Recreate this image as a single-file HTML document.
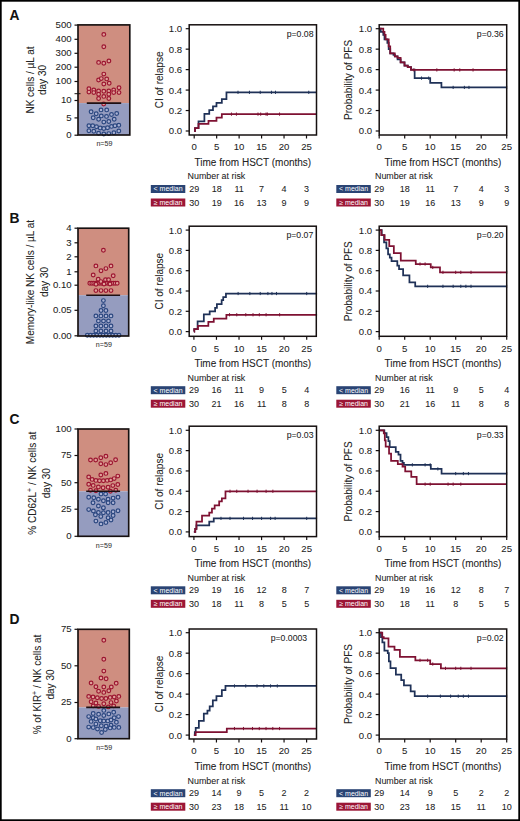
<!DOCTYPE html><html><head><meta charset="utf-8"><style>html,body{margin:0;padding:0;background:#fff;}svg{display:block;}text{font-family:"Liberation Sans", sans-serif;}</style></head><body>
<svg width="520" height="821" viewBox="0 0 520 821">
<rect x="0" y="0" width="520" height="821" fill="#fff"/>
<text x="9.60" y="19.60" font-size="13.8" text-anchor="start" font-weight="bold" fill="#111" stroke="#111" stroke-width="0.06" >A</text>
<rect x="78" y="24.9" width="51.80000000000001" height="78.19999999999999" fill="#cf8e80"/>
<rect x="78" y="103.1" width="51.80000000000001" height="31.900000000000006" fill="#959cbf"/>
<circle cx="103.8" cy="34.4" r="1.85" fill="#e0a19a" stroke="#9c1530" stroke-width="1.2"/>
<circle cx="103.8" cy="46.8" r="1.85" fill="#e0a19a" stroke="#9c1530" stroke-width="1.2"/>
<circle cx="98.6" cy="62.4" r="1.85" fill="#e0a19a" stroke="#9c1530" stroke-width="1.2"/>
<circle cx="103.8" cy="63.2" r="1.85" fill="#e0a19a" stroke="#9c1530" stroke-width="1.2"/>
<circle cx="108.9" cy="61.0" r="1.85" fill="#e0a19a" stroke="#9c1530" stroke-width="1.2"/>
<circle cx="103.8" cy="74.1" r="1.85" fill="#e0a19a" stroke="#9c1530" stroke-width="1.2"/>
<circle cx="98.6" cy="80.0" r="1.85" fill="#e0a19a" stroke="#9c1530" stroke-width="1.2"/>
<circle cx="101.3" cy="78.6" r="1.85" fill="#e0a19a" stroke="#9c1530" stroke-width="1.2"/>
<circle cx="106.7" cy="78.9" r="1.85" fill="#e0a19a" stroke="#9c1530" stroke-width="1.2"/>
<circle cx="103.8" cy="84.0" r="1.85" fill="#e0a19a" stroke="#9c1530" stroke-width="1.2"/>
<circle cx="109.2" cy="83.2" r="1.85" fill="#e0a19a" stroke="#9c1530" stroke-width="1.2"/>
<circle cx="88.9" cy="88.8" r="1.85" fill="#e0a19a" stroke="#9c1530" stroke-width="1.2"/>
<circle cx="88.9" cy="92.1" r="1.85" fill="#e0a19a" stroke="#9c1530" stroke-width="1.2"/>
<circle cx="93.8" cy="89.9" r="1.85" fill="#e0a19a" stroke="#9c1530" stroke-width="1.2"/>
<circle cx="93.8" cy="92.6" r="1.85" fill="#e0a19a" stroke="#9c1530" stroke-width="1.2"/>
<circle cx="98.6" cy="91.0" r="1.85" fill="#e0a19a" stroke="#9c1530" stroke-width="1.2"/>
<circle cx="98.6" cy="94.2" r="1.85" fill="#e0a19a" stroke="#9c1530" stroke-width="1.2"/>
<circle cx="103.8" cy="91.2" r="1.85" fill="#e0a19a" stroke="#9c1530" stroke-width="1.2"/>
<circle cx="108.8" cy="91.0" r="1.85" fill="#e0a19a" stroke="#9c1530" stroke-width="1.2"/>
<circle cx="108.8" cy="94.2" r="1.85" fill="#e0a19a" stroke="#9c1530" stroke-width="1.2"/>
<circle cx="113.7" cy="89.9" r="1.85" fill="#e0a19a" stroke="#9c1530" stroke-width="1.2"/>
<circle cx="113.7" cy="92.6" r="1.85" fill="#e0a19a" stroke="#9c1530" stroke-width="1.2"/>
<circle cx="119.0" cy="87.8" r="1.85" fill="#e0a19a" stroke="#9c1530" stroke-width="1.2"/>
<circle cx="119.0" cy="92.6" r="1.85" fill="#e0a19a" stroke="#9c1530" stroke-width="1.2"/>
<circle cx="98.6" cy="98.5" r="1.85" fill="#e0a19a" stroke="#9c1530" stroke-width="1.2"/>
<circle cx="103.8" cy="96.4" r="1.85" fill="#e0a19a" stroke="#9c1530" stroke-width="1.2"/>
<circle cx="108.8" cy="98.5" r="1.85" fill="#e0a19a" stroke="#9c1530" stroke-width="1.2"/>
<circle cx="103.7" cy="104.0" r="1.85" fill="#e0a19a" stroke="#9c1530" stroke-width="1.2"/>
<circle cx="101.0" cy="109.9" r="1.85" fill="#aab2d4" stroke="#2a467f" stroke-width="1.2"/>
<circle cx="106.7" cy="109.9" r="1.85" fill="#aab2d4" stroke="#2a467f" stroke-width="1.2"/>
<circle cx="91.1" cy="111.8" r="1.85" fill="#aab2d4" stroke="#2a467f" stroke-width="1.2"/>
<circle cx="116.7" cy="113.5" r="1.85" fill="#aab2d4" stroke="#2a467f" stroke-width="1.2"/>
<circle cx="96.2" cy="113.8" r="1.85" fill="#aab2d4" stroke="#2a467f" stroke-width="1.2"/>
<circle cx="101.3" cy="115.9" r="1.85" fill="#aab2d4" stroke="#2a467f" stroke-width="1.2"/>
<circle cx="106.5" cy="116.4" r="1.85" fill="#aab2d4" stroke="#2a467f" stroke-width="1.2"/>
<circle cx="111.5" cy="114.5" r="1.85" fill="#aab2d4" stroke="#2a467f" stroke-width="1.2"/>
<circle cx="93.2" cy="117.8" r="1.85" fill="#aab2d4" stroke="#2a467f" stroke-width="1.2"/>
<circle cx="98.6" cy="119.2" r="1.85" fill="#aab2d4" stroke="#2a467f" stroke-width="1.2"/>
<circle cx="114.2" cy="119.2" r="1.85" fill="#aab2d4" stroke="#2a467f" stroke-width="1.2"/>
<circle cx="103.8" cy="122.1" r="1.85" fill="#aab2d4" stroke="#2a467f" stroke-width="1.2"/>
<circle cx="108.8" cy="121.5" r="1.85" fill="#aab2d4" stroke="#2a467f" stroke-width="1.2"/>
<circle cx="88.9" cy="125.8" r="1.85" fill="#aab2d4" stroke="#2a467f" stroke-width="1.2"/>
<circle cx="92.7" cy="125.8" r="1.85" fill="#aab2d4" stroke="#2a467f" stroke-width="1.2"/>
<circle cx="96.5" cy="126.7" r="1.85" fill="#aab2d4" stroke="#2a467f" stroke-width="1.2"/>
<circle cx="100.2" cy="128.0" r="1.85" fill="#aab2d4" stroke="#2a467f" stroke-width="1.2"/>
<circle cx="103.8" cy="128.5" r="1.85" fill="#aab2d4" stroke="#2a467f" stroke-width="1.2"/>
<circle cx="107.5" cy="127.8" r="1.85" fill="#aab2d4" stroke="#2a467f" stroke-width="1.2"/>
<circle cx="111.5" cy="126.4" r="1.85" fill="#aab2d4" stroke="#2a467f" stroke-width="1.2"/>
<circle cx="115.0" cy="125.8" r="1.85" fill="#aab2d4" stroke="#2a467f" stroke-width="1.2"/>
<circle cx="118.8" cy="125.3" r="1.85" fill="#aab2d4" stroke="#2a467f" stroke-width="1.2"/>
<circle cx="88.9" cy="130.7" r="1.85" fill="#aab2d4" stroke="#2a467f" stroke-width="1.2"/>
<circle cx="93.8" cy="131.2" r="1.85" fill="#aab2d4" stroke="#2a467f" stroke-width="1.2"/>
<circle cx="98.6" cy="133.2" r="1.85" fill="#aab2d4" stroke="#2a467f" stroke-width="1.2"/>
<circle cx="103.8" cy="134.0" r="1.85" fill="#aab2d4" stroke="#2a467f" stroke-width="1.2"/>
<circle cx="108.8" cy="133.6" r="1.85" fill="#aab2d4" stroke="#2a467f" stroke-width="1.2"/>
<circle cx="113.9" cy="132.8" r="1.85" fill="#aab2d4" stroke="#2a467f" stroke-width="1.2"/>
<circle cx="118.8" cy="131.0" r="1.85" fill="#aab2d4" stroke="#2a467f" stroke-width="1.2"/>
<line x1="86.80" y1="103.10" x2="121.20" y2="103.10" stroke="#1e1014" stroke-width="1.6"/>
<rect x="78" y="24.9" width="51.80000000000001" height="110.1" fill="none" stroke="#161010" stroke-width="1.65"/>
<line x1="74.50" y1="25.10" x2="78.00" y2="25.10" stroke="#161010" stroke-width="1.2"/>
<text x="71.60" y="28.00" font-size="9.6" text-anchor="end" font-weight="normal" fill="#222" stroke="#222" stroke-width="0.06" >500</text>
<line x1="74.50" y1="39.30" x2="78.00" y2="39.30" stroke="#161010" stroke-width="1.2"/>
<text x="71.60" y="42.20" font-size="9.6" text-anchor="end" font-weight="normal" fill="#222" stroke="#222" stroke-width="0.06" >400</text>
<line x1="74.50" y1="53.30" x2="78.00" y2="53.30" stroke="#161010" stroke-width="1.2"/>
<text x="71.60" y="56.20" font-size="9.6" text-anchor="end" font-weight="normal" fill="#222" stroke="#222" stroke-width="0.06" >300</text>
<line x1="74.50" y1="67.20" x2="78.00" y2="67.20" stroke="#161010" stroke-width="1.2"/>
<text x="71.60" y="70.10" font-size="9.6" text-anchor="end" font-weight="normal" fill="#222" stroke="#222" stroke-width="0.06" >200</text>
<line x1="74.50" y1="81.50" x2="78.00" y2="81.50" stroke="#161010" stroke-width="1.2"/>
<text x="71.60" y="84.40" font-size="9.6" text-anchor="end" font-weight="normal" fill="#222" stroke="#222" stroke-width="0.06" >100</text>
<line x1="74.50" y1="100.50" x2="78.00" y2="100.50" stroke="#161010" stroke-width="1.2"/>
<text x="71.60" y="103.40" font-size="9.6" text-anchor="end" font-weight="normal" fill="#222" stroke="#222" stroke-width="0.06" >10</text>
<line x1="74.50" y1="117.90" x2="78.00" y2="117.90" stroke="#161010" stroke-width="1.2"/>
<text x="71.60" y="120.80" font-size="9.6" text-anchor="end" font-weight="normal" fill="#222" stroke="#222" stroke-width="0.06" >5</text>
<line x1="74.50" y1="135.20" x2="78.00" y2="135.20" stroke="#161010" stroke-width="1.2"/>
<text x="71.60" y="138.10" font-size="9.6" text-anchor="end" font-weight="normal" fill="#222" stroke="#222" stroke-width="0.06" >0</text>
<line x1="74.50" y1="93.70" x2="80.50" y2="93.70" stroke="#161010" stroke-width="1.0"/>
<text x="0" y="0" font-size="10" text-anchor="middle" fill="#222" stroke="#222" stroke-width="0.06" transform="translate(30.10,80.00) rotate(-90)" dy="3.6">NK cells / µL at</text>
<text x="0" y="0" font-size="10" text-anchor="middle" fill="#222" stroke="#222" stroke-width="0.06" transform="translate(42.80,80.00) rotate(-90)" dy="3.6">day 30</text>
<text x="104.40" y="146.20" font-size="7.1" text-anchor="middle" font-weight="normal" fill="#333" stroke="#333" stroke-width="0.06" >n=59</text>
<path d="M194.20,131.00 L195.01,131.00 L195.01,128.24 L198.51,128.24 L198.51,121.38 L204.40,121.38 L204.40,113.81 L209.25,113.81 L209.25,110.03 L212.98,110.03 L212.98,106.45 L216.48,106.45 L216.48,102.87 L221.83,102.87 L221.83,99.08 L226.45,99.08 L226.45,92.33 L316.83,92.33" fill="none" stroke="#1f3157" stroke-width="1.75" stroke-linejoin="miter"/>
<line x1="238.00" y1="90.73" x2="238.00" y2="93.93" stroke="#1f3157" stroke-width="1.0"/>
<line x1="249.45" y1="90.73" x2="249.45" y2="93.93" stroke="#1f3157" stroke-width="1.0"/>
<line x1="260.23" y1="90.73" x2="260.23" y2="93.93" stroke="#1f3157" stroke-width="1.0"/>
<line x1="271.46" y1="90.73" x2="271.46" y2="93.93" stroke="#1f3157" stroke-width="1.0"/>
<line x1="275.51" y1="90.73" x2="275.51" y2="93.93" stroke="#1f3157" stroke-width="1.0"/>
<line x1="308.75" y1="90.73" x2="308.75" y2="93.93" stroke="#1f3157" stroke-width="1.0"/>
<path d="M194.20,131.00 L195.01,131.00 L195.01,128.24 L198.51,128.24 L198.51,123.84 L208.48,123.84 L208.48,120.77 L216.48,120.77 L216.48,117.70 L221.83,117.70 L221.83,114.12 L316.83,114.12" fill="none" stroke="#7e1132" stroke-width="1.75" stroke-linejoin="miter"/>
<line x1="231.48" y1="112.52" x2="231.48" y2="115.72" stroke="#7e1132" stroke-width="1.0"/>
<line x1="236.42" y1="112.52" x2="236.42" y2="115.72" stroke="#7e1132" stroke-width="1.0"/>
<line x1="257.99" y1="112.52" x2="257.99" y2="115.72" stroke="#7e1132" stroke-width="1.0"/>
<line x1="260.68" y1="112.52" x2="260.68" y2="115.72" stroke="#7e1132" stroke-width="1.0"/>
<line x1="266.07" y1="112.52" x2="266.07" y2="115.72" stroke="#7e1132" stroke-width="1.0"/>
<line x1="267.42" y1="112.52" x2="267.42" y2="115.72" stroke="#7e1132" stroke-width="1.0"/>
<line x1="279.55" y1="112.52" x2="279.55" y2="115.72" stroke="#7e1132" stroke-width="1.0"/>
<rect x="189.2" y="24.8" width="127.30000000000001" height="110.2" fill="none" stroke="#161010" stroke-width="1.5"/>
<line x1="185.70" y1="131.00" x2="189.20" y2="131.00" stroke="#161010" stroke-width="1.2"/>
<text x="182.20" y="134.45" font-size="9.6" text-anchor="end" font-weight="normal" fill="#222" stroke="#222" stroke-width="0.06" >0.0</text>
<line x1="185.70" y1="110.54" x2="189.20" y2="110.54" stroke="#161010" stroke-width="1.2"/>
<text x="182.20" y="113.99" font-size="9.6" text-anchor="end" font-weight="normal" fill="#222" stroke="#222" stroke-width="0.06" >0.2</text>
<line x1="185.70" y1="90.08" x2="189.20" y2="90.08" stroke="#161010" stroke-width="1.2"/>
<text x="182.20" y="93.53" font-size="9.6" text-anchor="end" font-weight="normal" fill="#222" stroke="#222" stroke-width="0.06" >0.4</text>
<line x1="185.70" y1="69.62" x2="189.20" y2="69.62" stroke="#161010" stroke-width="1.2"/>
<text x="182.20" y="73.07" font-size="9.6" text-anchor="end" font-weight="normal" fill="#222" stroke="#222" stroke-width="0.06" >0.6</text>
<line x1="185.70" y1="49.16" x2="189.20" y2="49.16" stroke="#161010" stroke-width="1.2"/>
<text x="182.20" y="52.61" font-size="9.6" text-anchor="end" font-weight="normal" fill="#222" stroke="#222" stroke-width="0.06" >0.8</text>
<line x1="185.70" y1="28.70" x2="189.20" y2="28.70" stroke="#161010" stroke-width="1.2"/>
<text x="182.20" y="32.15" font-size="9.6" text-anchor="end" font-weight="normal" fill="#222" stroke="#222" stroke-width="0.06" >1.0</text>
<line x1="194.20" y1="135.00" x2="194.20" y2="138.50" stroke="#161010" stroke-width="1.2"/>
<text x="194.20" y="150.30" font-size="9.6" text-anchor="middle" font-weight="normal" fill="#222" stroke="#222" stroke-width="0.06" >0</text>
<line x1="216.66" y1="135.00" x2="216.66" y2="138.50" stroke="#161010" stroke-width="1.2"/>
<text x="216.66" y="150.30" font-size="9.6" text-anchor="middle" font-weight="normal" fill="#222" stroke="#222" stroke-width="0.06" >5</text>
<line x1="239.12" y1="135.00" x2="239.12" y2="138.50" stroke="#161010" stroke-width="1.2"/>
<text x="239.12" y="150.30" font-size="9.6" text-anchor="middle" font-weight="normal" fill="#222" stroke="#222" stroke-width="0.06" >10</text>
<line x1="261.58" y1="135.00" x2="261.58" y2="138.50" stroke="#161010" stroke-width="1.2"/>
<text x="261.58" y="150.30" font-size="9.6" text-anchor="middle" font-weight="normal" fill="#222" stroke="#222" stroke-width="0.06" >15</text>
<line x1="284.04" y1="135.00" x2="284.04" y2="138.50" stroke="#161010" stroke-width="1.2"/>
<text x="284.04" y="150.30" font-size="9.6" text-anchor="middle" font-weight="normal" fill="#222" stroke="#222" stroke-width="0.06" >20</text>
<line x1="306.50" y1="135.00" x2="306.50" y2="138.50" stroke="#161010" stroke-width="1.2"/>
<text x="306.50" y="150.30" font-size="9.6" text-anchor="middle" font-weight="normal" fill="#222" stroke="#222" stroke-width="0.06" >25</text>
<text x="252.85" y="165.60" font-size="10" text-anchor="middle" font-weight="normal" fill="#222" stroke="#222" stroke-width="0.06" >Time from HSCT (months)</text>
<text x="0" y="0" font-size="10" text-anchor="middle" fill="#222" stroke="#222" stroke-width="0.06" transform="translate(159.20,79.90) rotate(-90)" dy="3.6">CI of relapse</text>
<text x="313.50" y="36.90" font-size="8.7" text-anchor="end" font-weight="normal" fill="#222" stroke="#222" stroke-width="0.06" >p=0.08</text>
<text x="187.60" y="179.40" font-size="8.9" text-anchor="start" font-weight="normal" fill="#222" stroke="#222" stroke-width="0.06" >Number at risk</text>
<rect x="150.80" y="185.00" width="34.5" height="8" fill="#2a4474"/>
<text x="168.05" y="191.40" font-size="7" text-anchor="middle" font-weight="normal" fill="#fff" stroke="#fff" stroke-width="0" >&lt; median</text>
<text x="194.20" y="192.10" font-size="9" text-anchor="middle" font-weight="normal" fill="#222" stroke="#222" stroke-width="0.06" >29</text>
<text x="216.66" y="192.10" font-size="9" text-anchor="middle" font-weight="normal" fill="#222" stroke="#222" stroke-width="0.06" >18</text>
<text x="239.12" y="192.10" font-size="9" text-anchor="middle" font-weight="normal" fill="#222" stroke="#222" stroke-width="0.06" >11</text>
<text x="261.58" y="192.10" font-size="9" text-anchor="middle" font-weight="normal" fill="#222" stroke="#222" stroke-width="0.06" >7</text>
<text x="284.04" y="192.10" font-size="9" text-anchor="middle" font-weight="normal" fill="#222" stroke="#222" stroke-width="0.06" >4</text>
<text x="306.50" y="192.10" font-size="9" text-anchor="middle" font-weight="normal" fill="#222" stroke="#222" stroke-width="0.06" >3</text>
<rect x="150.80" y="198.50" width="34.5" height="8" fill="#9c1636"/>
<text x="168.05" y="204.90" font-size="7" text-anchor="middle" font-weight="normal" fill="#fff" stroke="#fff" stroke-width="0" >&#8805; median</text>
<text x="194.20" y="205.60" font-size="9" text-anchor="middle" font-weight="normal" fill="#222" stroke="#222" stroke-width="0.06" >30</text>
<text x="216.66" y="205.60" font-size="9" text-anchor="middle" font-weight="normal" fill="#222" stroke="#222" stroke-width="0.06" >19</text>
<text x="239.12" y="205.60" font-size="9" text-anchor="middle" font-weight="normal" fill="#222" stroke="#222" stroke-width="0.06" >16</text>
<text x="261.58" y="205.60" font-size="9" text-anchor="middle" font-weight="normal" fill="#222" stroke="#222" stroke-width="0.06" >13</text>
<text x="284.04" y="205.60" font-size="9" text-anchor="middle" font-weight="normal" fill="#222" stroke="#222" stroke-width="0.06" >9</text>
<text x="306.50" y="205.60" font-size="9" text-anchor="middle" font-weight="normal" fill="#222" stroke="#222" stroke-width="0.06" >9</text>
<path d="M379.20,28.70 L380.73,28.70 L380.73,31.77 L383.28,31.77 L383.28,34.84 L384.50,34.84 L384.50,39.44 L387.36,39.44 L387.36,42.82 L388.69,42.82 L388.69,49.16 L390.22,49.16 L390.22,53.25 L393.48,53.25 L393.48,54.79 L394.81,54.79 L394.81,56.32 L397.56,56.32 L397.56,59.39 L400.62,59.39 L400.62,62.46 L404.50,62.46 L404.50,65.53 L407.76,65.53 L407.76,67.06 L411.02,67.06 L411.02,69.62 L414.64,69.62 L414.64,78.11 L430.20,78.11 L430.20,82.82 L441.42,82.82 L441.42,87.42 L506.70,87.42" fill="none" stroke="#1f3157" stroke-width="1.75" stroke-linejoin="miter"/>
<line x1="421.53" y1="76.51" x2="421.53" y2="79.71" stroke="#1f3157" stroke-width="1.0"/>
<line x1="428.67" y1="76.51" x2="428.67" y2="79.71" stroke="#1f3157" stroke-width="1.0"/>
<line x1="453.15" y1="85.82" x2="453.15" y2="89.02" stroke="#1f3157" stroke-width="1.0"/>
<line x1="464.37" y1="85.82" x2="464.37" y2="89.02" stroke="#1f3157" stroke-width="1.0"/>
<line x1="468.96" y1="85.82" x2="468.96" y2="89.02" stroke="#1f3157" stroke-width="1.0"/>
<line x1="506.70" y1="85.82" x2="506.70" y2="89.02" stroke="#1f3157" stroke-width="1.0"/>
<path d="M379.20,28.70 L383.28,28.70 L383.28,31.77 L384.50,31.77 L384.50,34.84 L385.63,34.84 L385.63,39.44 L388.69,39.44 L388.69,46.30 L390.22,46.30 L390.22,53.25 L394.81,53.25 L394.81,56.32 L397.56,56.32 L397.56,57.75 L400.62,57.75 L400.62,62.46 L404.50,62.46 L404.50,65.53 L407.76,65.53 L407.76,67.06 L411.02,67.06 L411.02,69.93 L506.70,69.93" fill="none" stroke="#7e1132" stroke-width="1.75" stroke-linejoin="miter"/>
<line x1="413.88" y1="68.33" x2="413.88" y2="71.53" stroke="#7e1132" stroke-width="1.0"/>
<line x1="436.83" y1="68.33" x2="436.83" y2="71.53" stroke="#7e1132" stroke-width="1.0"/>
<line x1="454.17" y1="68.33" x2="454.17" y2="71.53" stroke="#7e1132" stroke-width="1.0"/>
<line x1="459.78" y1="68.33" x2="459.78" y2="71.53" stroke="#7e1132" stroke-width="1.0"/>
<line x1="473.04" y1="68.33" x2="473.04" y2="71.53" stroke="#7e1132" stroke-width="1.0"/>
<line x1="506.70" y1="68.33" x2="506.70" y2="71.53" stroke="#7e1132" stroke-width="1.0"/>
<rect x="379.2" y="24.8" width="127.5" height="110.2" fill="none" stroke="#161010" stroke-width="1.5"/>
<line x1="375.70" y1="131.00" x2="379.20" y2="131.00" stroke="#161010" stroke-width="1.2"/>
<text x="372.20" y="134.45" font-size="9.6" text-anchor="end" font-weight="normal" fill="#222" stroke="#222" stroke-width="0.06" >0.0</text>
<line x1="375.70" y1="110.54" x2="379.20" y2="110.54" stroke="#161010" stroke-width="1.2"/>
<text x="372.20" y="113.99" font-size="9.6" text-anchor="end" font-weight="normal" fill="#222" stroke="#222" stroke-width="0.06" >0.2</text>
<line x1="375.70" y1="90.08" x2="379.20" y2="90.08" stroke="#161010" stroke-width="1.2"/>
<text x="372.20" y="93.53" font-size="9.6" text-anchor="end" font-weight="normal" fill="#222" stroke="#222" stroke-width="0.06" >0.4</text>
<line x1="375.70" y1="69.62" x2="379.20" y2="69.62" stroke="#161010" stroke-width="1.2"/>
<text x="372.20" y="73.07" font-size="9.6" text-anchor="end" font-weight="normal" fill="#222" stroke="#222" stroke-width="0.06" >0.6</text>
<line x1="375.70" y1="49.16" x2="379.20" y2="49.16" stroke="#161010" stroke-width="1.2"/>
<text x="372.20" y="52.61" font-size="9.6" text-anchor="end" font-weight="normal" fill="#222" stroke="#222" stroke-width="0.06" >0.8</text>
<line x1="375.70" y1="28.70" x2="379.20" y2="28.70" stroke="#161010" stroke-width="1.2"/>
<text x="372.20" y="32.15" font-size="9.6" text-anchor="end" font-weight="normal" fill="#222" stroke="#222" stroke-width="0.06" >1.0</text>
<line x1="379.20" y1="135.00" x2="379.20" y2="138.50" stroke="#161010" stroke-width="1.2"/>
<text x="379.20" y="150.30" font-size="9.6" text-anchor="middle" font-weight="normal" fill="#222" stroke="#222" stroke-width="0.06" >0</text>
<line x1="404.70" y1="135.00" x2="404.70" y2="138.50" stroke="#161010" stroke-width="1.2"/>
<text x="404.70" y="150.30" font-size="9.6" text-anchor="middle" font-weight="normal" fill="#222" stroke="#222" stroke-width="0.06" >5</text>
<line x1="430.20" y1="135.00" x2="430.20" y2="138.50" stroke="#161010" stroke-width="1.2"/>
<text x="430.20" y="150.30" font-size="9.6" text-anchor="middle" font-weight="normal" fill="#222" stroke="#222" stroke-width="0.06" >10</text>
<line x1="455.70" y1="135.00" x2="455.70" y2="138.50" stroke="#161010" stroke-width="1.2"/>
<text x="455.70" y="150.30" font-size="9.6" text-anchor="middle" font-weight="normal" fill="#222" stroke="#222" stroke-width="0.06" >15</text>
<line x1="481.20" y1="135.00" x2="481.20" y2="138.50" stroke="#161010" stroke-width="1.2"/>
<text x="481.20" y="150.30" font-size="9.6" text-anchor="middle" font-weight="normal" fill="#222" stroke="#222" stroke-width="0.06" >20</text>
<line x1="506.70" y1="135.00" x2="506.70" y2="138.50" stroke="#161010" stroke-width="1.2"/>
<text x="506.70" y="150.30" font-size="9.6" text-anchor="middle" font-weight="normal" fill="#222" stroke="#222" stroke-width="0.06" >25</text>
<text x="442.95" y="165.60" font-size="10" text-anchor="middle" font-weight="normal" fill="#222" stroke="#222" stroke-width="0.06" >Time from HSCT (months)</text>
<text x="0" y="0" font-size="10" text-anchor="middle" fill="#222" stroke="#222" stroke-width="0.06" transform="translate(348.80,79.90) rotate(-90)" dy="3.6">Probability of PFS</text>
<text x="503.70" y="36.90" font-size="8.7" text-anchor="end" font-weight="normal" fill="#222" stroke="#222" stroke-width="0.06" >p=0.36</text>
<text x="375.00" y="179.40" font-size="8.9" text-anchor="start" font-weight="normal" fill="#222" stroke="#222" stroke-width="0.06" >Number at risk</text>
<rect x="336.30" y="185.00" width="34.5" height="8" fill="#2a4474"/>
<text x="353.55" y="191.40" font-size="7" text-anchor="middle" font-weight="normal" fill="#fff" stroke="#fff" stroke-width="0" >&lt; median</text>
<text x="379.20" y="192.10" font-size="9" text-anchor="middle" font-weight="normal" fill="#222" stroke="#222" stroke-width="0.06" >29</text>
<text x="404.70" y="192.10" font-size="9" text-anchor="middle" font-weight="normal" fill="#222" stroke="#222" stroke-width="0.06" >18</text>
<text x="430.20" y="192.10" font-size="9" text-anchor="middle" font-weight="normal" fill="#222" stroke="#222" stroke-width="0.06" >11</text>
<text x="455.70" y="192.10" font-size="9" text-anchor="middle" font-weight="normal" fill="#222" stroke="#222" stroke-width="0.06" >7</text>
<text x="481.20" y="192.10" font-size="9" text-anchor="middle" font-weight="normal" fill="#222" stroke="#222" stroke-width="0.06" >4</text>
<text x="506.70" y="192.10" font-size="9" text-anchor="middle" font-weight="normal" fill="#222" stroke="#222" stroke-width="0.06" >3</text>
<rect x="336.30" y="198.50" width="34.5" height="8" fill="#9c1636"/>
<text x="353.55" y="204.90" font-size="7" text-anchor="middle" font-weight="normal" fill="#fff" stroke="#fff" stroke-width="0" >&#8805; median</text>
<text x="379.20" y="205.60" font-size="9" text-anchor="middle" font-weight="normal" fill="#222" stroke="#222" stroke-width="0.06" >30</text>
<text x="404.70" y="205.60" font-size="9" text-anchor="middle" font-weight="normal" fill="#222" stroke="#222" stroke-width="0.06" >19</text>
<text x="430.20" y="205.60" font-size="9" text-anchor="middle" font-weight="normal" fill="#222" stroke="#222" stroke-width="0.06" >16</text>
<text x="455.70" y="205.60" font-size="9" text-anchor="middle" font-weight="normal" fill="#222" stroke="#222" stroke-width="0.06" >13</text>
<text x="481.20" y="205.60" font-size="9" text-anchor="middle" font-weight="normal" fill="#222" stroke="#222" stroke-width="0.06" >9</text>
<text x="506.70" y="205.60" font-size="9" text-anchor="middle" font-weight="normal" fill="#222" stroke="#222" stroke-width="0.06" >9</text>
<text x="9.60" y="222.50" font-size="13.8" text-anchor="start" font-weight="bold" fill="#111" stroke="#111" stroke-width="0.06" >B</text>
<rect x="78" y="228.2" width="50.69999999999999" height="67.0" fill="#cf8e80"/>
<rect x="78" y="295.2" width="50.69999999999999" height="40.80000000000001" fill="#959cbf"/>
<circle cx="103.4" cy="250.3" r="1.85" fill="#e0a19a" stroke="#9c1530" stroke-width="1.2"/>
<circle cx="95.9" cy="265.9" r="1.85" fill="#e0a19a" stroke="#9c1530" stroke-width="1.2"/>
<circle cx="111.0" cy="265.9" r="1.85" fill="#e0a19a" stroke="#9c1530" stroke-width="1.2"/>
<circle cx="105.9" cy="268.6" r="1.85" fill="#e0a19a" stroke="#9c1530" stroke-width="1.2"/>
<circle cx="101.0" cy="270.7" r="1.85" fill="#e0a19a" stroke="#9c1530" stroke-width="1.2"/>
<circle cx="93.2" cy="275.0" r="1.85" fill="#e0a19a" stroke="#9c1530" stroke-width="1.2"/>
<circle cx="113.2" cy="275.8" r="1.85" fill="#e0a19a" stroke="#9c1530" stroke-width="1.2"/>
<circle cx="98.2" cy="279.3" r="1.85" fill="#e0a19a" stroke="#9c1530" stroke-width="1.2"/>
<circle cx="105.5" cy="279.7" r="1.85" fill="#e0a19a" stroke="#9c1530" stroke-width="1.2"/>
<circle cx="108.6" cy="279.7" r="1.85" fill="#e0a19a" stroke="#9c1530" stroke-width="1.2"/>
<circle cx="89.8" cy="283.3" r="1.85" fill="#e0a19a" stroke="#9c1530" stroke-width="1.2"/>
<circle cx="91.8" cy="283.3" r="1.85" fill="#e0a19a" stroke="#9c1530" stroke-width="1.2"/>
<circle cx="93.7" cy="283.3" r="1.85" fill="#e0a19a" stroke="#9c1530" stroke-width="1.2"/>
<circle cx="95.7" cy="283.3" r="1.85" fill="#e0a19a" stroke="#9c1530" stroke-width="1.2"/>
<circle cx="97.6" cy="283.3" r="1.85" fill="#e0a19a" stroke="#9c1530" stroke-width="1.2"/>
<circle cx="99.6" cy="283.3" r="1.85" fill="#e0a19a" stroke="#9c1530" stroke-width="1.2"/>
<circle cx="101.5" cy="283.3" r="1.85" fill="#e0a19a" stroke="#9c1530" stroke-width="1.2"/>
<circle cx="103.5" cy="283.3" r="1.85" fill="#e0a19a" stroke="#9c1530" stroke-width="1.2"/>
<circle cx="105.5" cy="283.3" r="1.85" fill="#e0a19a" stroke="#9c1530" stroke-width="1.2"/>
<circle cx="107.4" cy="283.3" r="1.85" fill="#e0a19a" stroke="#9c1530" stroke-width="1.2"/>
<circle cx="109.4" cy="283.3" r="1.85" fill="#e0a19a" stroke="#9c1530" stroke-width="1.2"/>
<circle cx="111.3" cy="283.3" r="1.85" fill="#e0a19a" stroke="#9c1530" stroke-width="1.2"/>
<circle cx="113.3" cy="283.3" r="1.85" fill="#e0a19a" stroke="#9c1530" stroke-width="1.2"/>
<circle cx="115.2" cy="283.3" r="1.85" fill="#e0a19a" stroke="#9c1530" stroke-width="1.2"/>
<circle cx="117.2" cy="283.3" r="1.85" fill="#e0a19a" stroke="#9c1530" stroke-width="1.2"/>
<circle cx="100.9" cy="281.6" r="1.85" fill="#e0a19a" stroke="#9c1530" stroke-width="1.2"/>
<circle cx="104.0" cy="284.0" r="1.85" fill="#e0a19a" stroke="#9c1530" stroke-width="1.2"/>
<circle cx="96.0" cy="284.2" r="1.85" fill="#e0a19a" stroke="#9c1530" stroke-width="1.2"/>
<circle cx="110.0" cy="284.0" r="1.85" fill="#e0a19a" stroke="#9c1530" stroke-width="1.2"/>
<circle cx="95.9" cy="290.6" r="1.85" fill="#e0a19a" stroke="#9c1530" stroke-width="1.2"/>
<circle cx="101.0" cy="290.6" r="1.85" fill="#e0a19a" stroke="#9c1530" stroke-width="1.2"/>
<circle cx="105.9" cy="290.6" r="1.85" fill="#e0a19a" stroke="#9c1530" stroke-width="1.2"/>
<circle cx="111.0" cy="290.6" r="1.85" fill="#e0a19a" stroke="#9c1530" stroke-width="1.2"/>
<circle cx="103.4" cy="300.6" r="1.85" fill="#aab2d4" stroke="#2a467f" stroke-width="1.2"/>
<circle cx="103.4" cy="305.7" r="1.85" fill="#aab2d4" stroke="#2a467f" stroke-width="1.2"/>
<circle cx="101.0" cy="310.5" r="1.85" fill="#aab2d4" stroke="#2a467f" stroke-width="1.2"/>
<circle cx="105.9" cy="310.5" r="1.85" fill="#aab2d4" stroke="#2a467f" stroke-width="1.2"/>
<circle cx="95.9" cy="315.9" r="1.85" fill="#aab2d4" stroke="#2a467f" stroke-width="1.2"/>
<circle cx="100.9" cy="315.9" r="1.85" fill="#aab2d4" stroke="#2a467f" stroke-width="1.2"/>
<circle cx="106.0" cy="315.9" r="1.85" fill="#aab2d4" stroke="#2a467f" stroke-width="1.2"/>
<circle cx="111.0" cy="315.9" r="1.85" fill="#aab2d4" stroke="#2a467f" stroke-width="1.2"/>
<circle cx="98.4" cy="321.0" r="1.85" fill="#aab2d4" stroke="#2a467f" stroke-width="1.2"/>
<circle cx="103.5" cy="321.0" r="1.85" fill="#aab2d4" stroke="#2a467f" stroke-width="1.2"/>
<circle cx="108.5" cy="321.0" r="1.85" fill="#aab2d4" stroke="#2a467f" stroke-width="1.2"/>
<circle cx="95.9" cy="325.9" r="1.85" fill="#aab2d4" stroke="#2a467f" stroke-width="1.2"/>
<circle cx="100.9" cy="325.9" r="1.85" fill="#aab2d4" stroke="#2a467f" stroke-width="1.2"/>
<circle cx="106.0" cy="325.9" r="1.85" fill="#aab2d4" stroke="#2a467f" stroke-width="1.2"/>
<circle cx="111.0" cy="325.9" r="1.85" fill="#aab2d4" stroke="#2a467f" stroke-width="1.2"/>
<circle cx="95.9" cy="331.0" r="1.85" fill="#aab2d4" stroke="#2a467f" stroke-width="1.2"/>
<circle cx="100.9" cy="331.0" r="1.85" fill="#aab2d4" stroke="#2a467f" stroke-width="1.2"/>
<circle cx="106.0" cy="331.0" r="1.85" fill="#aab2d4" stroke="#2a467f" stroke-width="1.2"/>
<circle cx="111.0" cy="331.0" r="1.85" fill="#aab2d4" stroke="#2a467f" stroke-width="1.2"/>
<circle cx="87.3" cy="335.3" r="1.85" fill="#aab2d4" stroke="#2a467f" stroke-width="1.2"/>
<circle cx="90.5" cy="335.3" r="1.85" fill="#aab2d4" stroke="#2a467f" stroke-width="1.2"/>
<circle cx="93.6" cy="335.3" r="1.85" fill="#aab2d4" stroke="#2a467f" stroke-width="1.2"/>
<circle cx="96.8" cy="335.3" r="1.85" fill="#aab2d4" stroke="#2a467f" stroke-width="1.2"/>
<circle cx="100.0" cy="335.3" r="1.85" fill="#aab2d4" stroke="#2a467f" stroke-width="1.2"/>
<circle cx="103.1" cy="335.3" r="1.85" fill="#aab2d4" stroke="#2a467f" stroke-width="1.2"/>
<circle cx="106.3" cy="335.3" r="1.85" fill="#aab2d4" stroke="#2a467f" stroke-width="1.2"/>
<circle cx="109.5" cy="335.3" r="1.85" fill="#aab2d4" stroke="#2a467f" stroke-width="1.2"/>
<circle cx="112.7" cy="335.3" r="1.85" fill="#aab2d4" stroke="#2a467f" stroke-width="1.2"/>
<circle cx="115.8" cy="335.3" r="1.85" fill="#aab2d4" stroke="#2a467f" stroke-width="1.2"/>
<circle cx="119.0" cy="335.3" r="1.85" fill="#aab2d4" stroke="#2a467f" stroke-width="1.2"/>
<line x1="86.20" y1="295.20" x2="120.10" y2="295.20" stroke="#1e1014" stroke-width="1.6"/>
<rect x="78" y="228.2" width="50.69999999999999" height="107.80000000000001" fill="none" stroke="#161010" stroke-width="1.65"/>
<line x1="74.50" y1="228.20" x2="78.00" y2="228.20" stroke="#161010" stroke-width="1.2"/>
<text x="71.60" y="231.10" font-size="9.6" text-anchor="end" font-weight="normal" fill="#222" stroke="#222" stroke-width="0.06" >4</text>
<line x1="74.50" y1="242.80" x2="78.00" y2="242.80" stroke="#161010" stroke-width="1.2"/>
<text x="71.60" y="245.70" font-size="9.6" text-anchor="end" font-weight="normal" fill="#222" stroke="#222" stroke-width="0.06" >3</text>
<line x1="74.50" y1="256.80" x2="78.00" y2="256.80" stroke="#161010" stroke-width="1.2"/>
<text x="71.60" y="259.70" font-size="9.6" text-anchor="end" font-weight="normal" fill="#222" stroke="#222" stroke-width="0.06" >2</text>
<line x1="74.50" y1="271.80" x2="78.00" y2="271.80" stroke="#161010" stroke-width="1.2"/>
<text x="71.60" y="274.70" font-size="9.6" text-anchor="end" font-weight="normal" fill="#222" stroke="#222" stroke-width="0.06" >1</text>
<line x1="74.50" y1="285.20" x2="78.00" y2="285.20" stroke="#161010" stroke-width="1.2"/>
<text x="71.60" y="288.10" font-size="9.6" text-anchor="end" font-weight="normal" fill="#222" stroke="#222" stroke-width="0.06" >0.10</text>
<line x1="74.50" y1="310.30" x2="78.00" y2="310.30" stroke="#161010" stroke-width="1.2"/>
<text x="71.60" y="313.20" font-size="9.6" text-anchor="end" font-weight="normal" fill="#222" stroke="#222" stroke-width="0.06" >0.05</text>
<line x1="74.50" y1="335.80" x2="78.00" y2="335.80" stroke="#161010" stroke-width="1.2"/>
<text x="71.60" y="338.70" font-size="9.6" text-anchor="end" font-weight="normal" fill="#222" stroke="#222" stroke-width="0.06" >0.00</text>
<text x="0" y="0" font-size="10" text-anchor="middle" fill="#222" stroke="#222" stroke-width="0.06" transform="translate(30.60,282.00) rotate(-90)" dy="3.6">Memory-like NK cells / µL at</text>
<text x="0" y="0" font-size="10" text-anchor="middle" fill="#222" stroke="#222" stroke-width="0.06" transform="translate(44.20,282.00) rotate(-90)" dy="3.6">day 30</text>
<text x="103.85" y="347.20" font-size="7.1" text-anchor="middle" font-weight="normal" fill="#333" stroke="#333" stroke-width="0.06" >n=59</text>
<path d="M193.90,331.60 L194.26,331.60 L194.26,329.06 L197.60,329.06 L197.60,321.45 L203.83,321.45 L203.83,314.35 L209.69,314.35 L209.69,311.30 L215.11,311.30 L215.11,307.75 L216.91,307.75 L216.91,304.19 L221.65,304.19 L221.65,300.13 L223.23,300.13 L223.23,297.09 L225.94,297.09 L225.94,293.54 L317.08,293.54" fill="none" stroke="#1f3157" stroke-width="1.75" stroke-linejoin="miter"/>
<line x1="238.12" y1="291.94" x2="238.12" y2="295.14" stroke="#1f3157" stroke-width="1.0"/>
<line x1="249.85" y1="291.94" x2="249.85" y2="295.14" stroke="#1f3157" stroke-width="1.0"/>
<line x1="260.23" y1="291.94" x2="260.23" y2="295.14" stroke="#1f3157" stroke-width="1.0"/>
<line x1="267.90" y1="291.94" x2="267.90" y2="295.14" stroke="#1f3157" stroke-width="1.0"/>
<line x1="271.96" y1="291.94" x2="271.96" y2="295.14" stroke="#1f3157" stroke-width="1.0"/>
<line x1="276.47" y1="291.94" x2="276.47" y2="295.14" stroke="#1f3157" stroke-width="1.0"/>
<line x1="306.70" y1="291.94" x2="306.70" y2="295.14" stroke="#1f3157" stroke-width="1.0"/>
<path d="M193.90,331.60 L194.26,331.60 L194.26,329.06 L197.96,329.06 L197.96,325.92 L208.34,325.92 L208.34,321.96 L213.75,321.96 L213.75,318.61 L226.39,318.61 L226.39,314.75 L317.08,314.75" fill="none" stroke="#7e1132" stroke-width="1.75" stroke-linejoin="miter"/>
<line x1="229.54" y1="313.15" x2="229.54" y2="316.35" stroke="#7e1132" stroke-width="1.0"/>
<line x1="236.76" y1="313.15" x2="236.76" y2="316.35" stroke="#7e1132" stroke-width="1.0"/>
<line x1="245.79" y1="313.15" x2="245.79" y2="316.35" stroke="#7e1132" stroke-width="1.0"/>
<line x1="253.01" y1="313.15" x2="253.01" y2="316.35" stroke="#7e1132" stroke-width="1.0"/>
<line x1="259.32" y1="313.15" x2="259.32" y2="316.35" stroke="#7e1132" stroke-width="1.0"/>
<line x1="266.09" y1="313.15" x2="266.09" y2="316.35" stroke="#7e1132" stroke-width="1.0"/>
<line x1="279.63" y1="313.15" x2="279.63" y2="316.35" stroke="#7e1132" stroke-width="1.0"/>
<rect x="189.2" y="226.2" width="127.10000000000002" height="110.10000000000002" fill="none" stroke="#161010" stroke-width="1.5"/>
<line x1="185.70" y1="331.60" x2="189.20" y2="331.60" stroke="#161010" stroke-width="1.2"/>
<text x="182.20" y="335.05" font-size="9.6" text-anchor="end" font-weight="normal" fill="#222" stroke="#222" stroke-width="0.06" >0.0</text>
<line x1="185.70" y1="311.30" x2="189.20" y2="311.30" stroke="#161010" stroke-width="1.2"/>
<text x="182.20" y="314.75" font-size="9.6" text-anchor="end" font-weight="normal" fill="#222" stroke="#222" stroke-width="0.06" >0.2</text>
<line x1="185.70" y1="291.00" x2="189.20" y2="291.00" stroke="#161010" stroke-width="1.2"/>
<text x="182.20" y="294.45" font-size="9.6" text-anchor="end" font-weight="normal" fill="#222" stroke="#222" stroke-width="0.06" >0.4</text>
<line x1="185.70" y1="270.70" x2="189.20" y2="270.70" stroke="#161010" stroke-width="1.2"/>
<text x="182.20" y="274.15" font-size="9.6" text-anchor="end" font-weight="normal" fill="#222" stroke="#222" stroke-width="0.06" >0.6</text>
<line x1="185.70" y1="250.40" x2="189.20" y2="250.40" stroke="#161010" stroke-width="1.2"/>
<text x="182.20" y="253.85" font-size="9.6" text-anchor="end" font-weight="normal" fill="#222" stroke="#222" stroke-width="0.06" >0.8</text>
<line x1="185.70" y1="230.10" x2="189.20" y2="230.10" stroke="#161010" stroke-width="1.2"/>
<text x="182.20" y="233.55" font-size="9.6" text-anchor="end" font-weight="normal" fill="#222" stroke="#222" stroke-width="0.06" >1.0</text>
<line x1="193.90" y1="336.30" x2="193.90" y2="339.80" stroke="#161010" stroke-width="1.2"/>
<text x="193.90" y="351.60" font-size="9.6" text-anchor="middle" font-weight="normal" fill="#222" stroke="#222" stroke-width="0.06" >0</text>
<line x1="216.46" y1="336.30" x2="216.46" y2="339.80" stroke="#161010" stroke-width="1.2"/>
<text x="216.46" y="351.60" font-size="9.6" text-anchor="middle" font-weight="normal" fill="#222" stroke="#222" stroke-width="0.06" >5</text>
<line x1="239.02" y1="336.30" x2="239.02" y2="339.80" stroke="#161010" stroke-width="1.2"/>
<text x="239.02" y="351.60" font-size="9.6" text-anchor="middle" font-weight="normal" fill="#222" stroke="#222" stroke-width="0.06" >10</text>
<line x1="261.58" y1="336.30" x2="261.58" y2="339.80" stroke="#161010" stroke-width="1.2"/>
<text x="261.58" y="351.60" font-size="9.6" text-anchor="middle" font-weight="normal" fill="#222" stroke="#222" stroke-width="0.06" >15</text>
<line x1="284.14" y1="336.30" x2="284.14" y2="339.80" stroke="#161010" stroke-width="1.2"/>
<text x="284.14" y="351.60" font-size="9.6" text-anchor="middle" font-weight="normal" fill="#222" stroke="#222" stroke-width="0.06" >20</text>
<line x1="306.70" y1="336.30" x2="306.70" y2="339.80" stroke="#161010" stroke-width="1.2"/>
<text x="306.70" y="351.60" font-size="9.6" text-anchor="middle" font-weight="normal" fill="#222" stroke="#222" stroke-width="0.06" >25</text>
<text x="252.75" y="366.90" font-size="10" text-anchor="middle" font-weight="normal" fill="#222" stroke="#222" stroke-width="0.06" >Time from HSCT (months)</text>
<text x="0" y="0" font-size="10" text-anchor="middle" fill="#222" stroke="#222" stroke-width="0.06" transform="translate(159.20,281.25) rotate(-90)" dy="3.6">CI of relapse</text>
<text x="313.30" y="238.30" font-size="8.7" text-anchor="end" font-weight="normal" fill="#222" stroke="#222" stroke-width="0.06" >p=0.07</text>
<text x="187.60" y="380.60" font-size="8.9" text-anchor="start" font-weight="normal" fill="#222" stroke="#222" stroke-width="0.06" >Number at risk</text>
<rect x="150.80" y="386.20" width="34.5" height="8" fill="#2a4474"/>
<text x="168.05" y="392.60" font-size="7" text-anchor="middle" font-weight="normal" fill="#fff" stroke="#fff" stroke-width="0" >&lt; median</text>
<text x="193.90" y="393.30" font-size="9" text-anchor="middle" font-weight="normal" fill="#222" stroke="#222" stroke-width="0.06" >29</text>
<text x="216.46" y="393.30" font-size="9" text-anchor="middle" font-weight="normal" fill="#222" stroke="#222" stroke-width="0.06" >16</text>
<text x="239.02" y="393.30" font-size="9" text-anchor="middle" font-weight="normal" fill="#222" stroke="#222" stroke-width="0.06" >11</text>
<text x="261.58" y="393.30" font-size="9" text-anchor="middle" font-weight="normal" fill="#222" stroke="#222" stroke-width="0.06" >9</text>
<text x="284.14" y="393.30" font-size="9" text-anchor="middle" font-weight="normal" fill="#222" stroke="#222" stroke-width="0.06" >5</text>
<text x="306.70" y="393.30" font-size="9" text-anchor="middle" font-weight="normal" fill="#222" stroke="#222" stroke-width="0.06" >4</text>
<rect x="150.80" y="399.70" width="34.5" height="8" fill="#9c1636"/>
<text x="168.05" y="406.10" font-size="7" text-anchor="middle" font-weight="normal" fill="#fff" stroke="#fff" stroke-width="0" >&#8805; median</text>
<text x="193.90" y="406.80" font-size="9" text-anchor="middle" font-weight="normal" fill="#222" stroke="#222" stroke-width="0.06" >30</text>
<text x="216.46" y="406.80" font-size="9" text-anchor="middle" font-weight="normal" fill="#222" stroke="#222" stroke-width="0.06" >21</text>
<text x="239.02" y="406.80" font-size="9" text-anchor="middle" font-weight="normal" fill="#222" stroke="#222" stroke-width="0.06" >16</text>
<text x="261.58" y="406.80" font-size="9" text-anchor="middle" font-weight="normal" fill="#222" stroke="#222" stroke-width="0.06" >11</text>
<text x="284.14" y="406.80" font-size="9" text-anchor="middle" font-weight="normal" fill="#222" stroke="#222" stroke-width="0.06" >8</text>
<text x="306.70" y="406.80" font-size="9" text-anchor="middle" font-weight="normal" fill="#222" stroke="#222" stroke-width="0.06" >8</text>
<path d="M379.20,230.10 L381.75,230.10 L381.75,235.18 L384.05,235.18 L384.05,242.28 L386.39,242.28 L386.39,248.37 L388.07,248.37 L388.07,254.46 L389.81,254.46 L389.81,257.50 L391.54,257.50 L391.54,261.16 L397.31,261.16 L397.31,265.73 L399.04,265.73 L399.04,269.18 L403.12,269.18 L403.12,275.47 L409.44,275.47 L409.44,282.37 L415.21,282.37 L415.21,286.33 L506.70,286.33" fill="none" stroke="#1f3157" stroke-width="1.75" stroke-linejoin="miter"/>
<line x1="427.65" y1="284.73" x2="427.65" y2="287.93" stroke="#1f3157" stroke-width="1.0"/>
<line x1="442.95" y1="284.73" x2="442.95" y2="287.93" stroke="#1f3157" stroke-width="1.0"/>
<line x1="453.15" y1="284.73" x2="453.15" y2="287.93" stroke="#1f3157" stroke-width="1.0"/>
<line x1="460.80" y1="284.73" x2="460.80" y2="287.93" stroke="#1f3157" stroke-width="1.0"/>
<line x1="465.90" y1="284.73" x2="465.90" y2="287.93" stroke="#1f3157" stroke-width="1.0"/>
<line x1="471.00" y1="284.73" x2="471.00" y2="287.93" stroke="#1f3157" stroke-width="1.0"/>
<line x1="506.70" y1="284.73" x2="506.70" y2="287.93" stroke="#1f3157" stroke-width="1.0"/>
<path d="M379.20,230.10 L381.24,230.10 L381.24,235.18 L384.66,235.18 L384.66,239.84 L389.25,239.84 L389.25,246.14 L393.84,246.14 L393.84,253.04 L400.77,253.04 L400.77,260.55 L415.77,260.55 L415.77,264.00 L430.76,264.00 L430.76,267.45 L439.99,267.45 L439.99,272.32 L506.70,272.32" fill="none" stroke="#7e1132" stroke-width="1.75" stroke-linejoin="miter"/>
<line x1="420.00" y1="262.40" x2="420.00" y2="265.60" stroke="#7e1132" stroke-width="1.0"/>
<line x1="425.10" y1="262.40" x2="425.10" y2="265.60" stroke="#7e1132" stroke-width="1.0"/>
<line x1="432.75" y1="265.85" x2="432.75" y2="269.05" stroke="#7e1132" stroke-width="1.0"/>
<line x1="442.95" y1="270.72" x2="442.95" y2="273.92" stroke="#7e1132" stroke-width="1.0"/>
<line x1="455.70" y1="270.72" x2="455.70" y2="273.92" stroke="#7e1132" stroke-width="1.0"/>
<line x1="460.80" y1="270.72" x2="460.80" y2="273.92" stroke="#7e1132" stroke-width="1.0"/>
<line x1="471.00" y1="270.72" x2="471.00" y2="273.92" stroke="#7e1132" stroke-width="1.0"/>
<line x1="506.70" y1="270.72" x2="506.70" y2="273.92" stroke="#7e1132" stroke-width="1.0"/>
<rect x="379.2" y="226.2" width="127.5" height="110.10000000000002" fill="none" stroke="#161010" stroke-width="1.5"/>
<line x1="375.70" y1="331.60" x2="379.20" y2="331.60" stroke="#161010" stroke-width="1.2"/>
<text x="372.20" y="335.05" font-size="9.6" text-anchor="end" font-weight="normal" fill="#222" stroke="#222" stroke-width="0.06" >0.0</text>
<line x1="375.70" y1="311.30" x2="379.20" y2="311.30" stroke="#161010" stroke-width="1.2"/>
<text x="372.20" y="314.75" font-size="9.6" text-anchor="end" font-weight="normal" fill="#222" stroke="#222" stroke-width="0.06" >0.2</text>
<line x1="375.70" y1="291.00" x2="379.20" y2="291.00" stroke="#161010" stroke-width="1.2"/>
<text x="372.20" y="294.45" font-size="9.6" text-anchor="end" font-weight="normal" fill="#222" stroke="#222" stroke-width="0.06" >0.4</text>
<line x1="375.70" y1="270.70" x2="379.20" y2="270.70" stroke="#161010" stroke-width="1.2"/>
<text x="372.20" y="274.15" font-size="9.6" text-anchor="end" font-weight="normal" fill="#222" stroke="#222" stroke-width="0.06" >0.6</text>
<line x1="375.70" y1="250.40" x2="379.20" y2="250.40" stroke="#161010" stroke-width="1.2"/>
<text x="372.20" y="253.85" font-size="9.6" text-anchor="end" font-weight="normal" fill="#222" stroke="#222" stroke-width="0.06" >0.8</text>
<line x1="375.70" y1="230.10" x2="379.20" y2="230.10" stroke="#161010" stroke-width="1.2"/>
<text x="372.20" y="233.55" font-size="9.6" text-anchor="end" font-weight="normal" fill="#222" stroke="#222" stroke-width="0.06" >1.0</text>
<line x1="379.20" y1="336.30" x2="379.20" y2="339.80" stroke="#161010" stroke-width="1.2"/>
<text x="379.20" y="351.60" font-size="9.6" text-anchor="middle" font-weight="normal" fill="#222" stroke="#222" stroke-width="0.06" >0</text>
<line x1="404.70" y1="336.30" x2="404.70" y2="339.80" stroke="#161010" stroke-width="1.2"/>
<text x="404.70" y="351.60" font-size="9.6" text-anchor="middle" font-weight="normal" fill="#222" stroke="#222" stroke-width="0.06" >5</text>
<line x1="430.20" y1="336.30" x2="430.20" y2="339.80" stroke="#161010" stroke-width="1.2"/>
<text x="430.20" y="351.60" font-size="9.6" text-anchor="middle" font-weight="normal" fill="#222" stroke="#222" stroke-width="0.06" >10</text>
<line x1="455.70" y1="336.30" x2="455.70" y2="339.80" stroke="#161010" stroke-width="1.2"/>
<text x="455.70" y="351.60" font-size="9.6" text-anchor="middle" font-weight="normal" fill="#222" stroke="#222" stroke-width="0.06" >15</text>
<line x1="481.20" y1="336.30" x2="481.20" y2="339.80" stroke="#161010" stroke-width="1.2"/>
<text x="481.20" y="351.60" font-size="9.6" text-anchor="middle" font-weight="normal" fill="#222" stroke="#222" stroke-width="0.06" >20</text>
<line x1="506.70" y1="336.30" x2="506.70" y2="339.80" stroke="#161010" stroke-width="1.2"/>
<text x="506.70" y="351.60" font-size="9.6" text-anchor="middle" font-weight="normal" fill="#222" stroke="#222" stroke-width="0.06" >25</text>
<text x="442.95" y="366.90" font-size="10" text-anchor="middle" font-weight="normal" fill="#222" stroke="#222" stroke-width="0.06" >Time from HSCT (months)</text>
<text x="0" y="0" font-size="10" text-anchor="middle" fill="#222" stroke="#222" stroke-width="0.06" transform="translate(348.80,281.25) rotate(-90)" dy="3.6">Probability of PFS</text>
<text x="503.70" y="238.30" font-size="8.7" text-anchor="end" font-weight="normal" fill="#222" stroke="#222" stroke-width="0.06" >p=0.20</text>
<text x="375.00" y="380.60" font-size="8.9" text-anchor="start" font-weight="normal" fill="#222" stroke="#222" stroke-width="0.06" >Number at risk</text>
<rect x="336.30" y="386.20" width="34.5" height="8" fill="#2a4474"/>
<text x="353.55" y="392.60" font-size="7" text-anchor="middle" font-weight="normal" fill="#fff" stroke="#fff" stroke-width="0" >&lt; median</text>
<text x="379.20" y="393.30" font-size="9" text-anchor="middle" font-weight="normal" fill="#222" stroke="#222" stroke-width="0.06" >29</text>
<text x="404.70" y="393.30" font-size="9" text-anchor="middle" font-weight="normal" fill="#222" stroke="#222" stroke-width="0.06" >16</text>
<text x="430.20" y="393.30" font-size="9" text-anchor="middle" font-weight="normal" fill="#222" stroke="#222" stroke-width="0.06" >11</text>
<text x="455.70" y="393.30" font-size="9" text-anchor="middle" font-weight="normal" fill="#222" stroke="#222" stroke-width="0.06" >9</text>
<text x="481.20" y="393.30" font-size="9" text-anchor="middle" font-weight="normal" fill="#222" stroke="#222" stroke-width="0.06" >5</text>
<text x="506.70" y="393.30" font-size="9" text-anchor="middle" font-weight="normal" fill="#222" stroke="#222" stroke-width="0.06" >4</text>
<rect x="336.30" y="399.70" width="34.5" height="8" fill="#9c1636"/>
<text x="353.55" y="406.10" font-size="7" text-anchor="middle" font-weight="normal" fill="#fff" stroke="#fff" stroke-width="0" >&#8805; median</text>
<text x="379.20" y="406.80" font-size="9" text-anchor="middle" font-weight="normal" fill="#222" stroke="#222" stroke-width="0.06" >30</text>
<text x="404.70" y="406.80" font-size="9" text-anchor="middle" font-weight="normal" fill="#222" stroke="#222" stroke-width="0.06" >21</text>
<text x="430.20" y="406.80" font-size="9" text-anchor="middle" font-weight="normal" fill="#222" stroke="#222" stroke-width="0.06" >16</text>
<text x="455.70" y="406.80" font-size="9" text-anchor="middle" font-weight="normal" fill="#222" stroke="#222" stroke-width="0.06" >11</text>
<text x="481.20" y="406.80" font-size="9" text-anchor="middle" font-weight="normal" fill="#222" stroke="#222" stroke-width="0.06" >8</text>
<text x="506.70" y="406.80" font-size="9" text-anchor="middle" font-weight="normal" fill="#222" stroke="#222" stroke-width="0.06" >8</text>
<text x="9.60" y="424.00" font-size="13.8" text-anchor="start" font-weight="bold" fill="#111" stroke="#111" stroke-width="0.06" >C</text>
<rect x="78" y="429" width="50.69999999999999" height="62.30000000000001" fill="#cf8e80"/>
<rect x="78" y="491.3" width="50.69999999999999" height="44.99999999999994" fill="#959cbf"/>
<circle cx="90.5" cy="460.0" r="1.85" fill="#e0a19a" stroke="#9c1530" stroke-width="1.2"/>
<circle cx="95.7" cy="460.0" r="1.85" fill="#e0a19a" stroke="#9c1530" stroke-width="1.2"/>
<circle cx="100.8" cy="457.8" r="1.85" fill="#e0a19a" stroke="#9c1530" stroke-width="1.2"/>
<circle cx="105.9" cy="456.2" r="1.85" fill="#e0a19a" stroke="#9c1530" stroke-width="1.2"/>
<circle cx="115.6" cy="459.7" r="1.85" fill="#e0a19a" stroke="#9c1530" stroke-width="1.2"/>
<circle cx="100.8" cy="463.8" r="1.85" fill="#e0a19a" stroke="#9c1530" stroke-width="1.2"/>
<circle cx="105.9" cy="464.6" r="1.85" fill="#e0a19a" stroke="#9c1530" stroke-width="1.2"/>
<circle cx="110.7" cy="462.7" r="1.85" fill="#e0a19a" stroke="#9c1530" stroke-width="1.2"/>
<circle cx="100.8" cy="475.0" r="1.85" fill="#e0a19a" stroke="#9c1530" stroke-width="1.2"/>
<circle cx="105.9" cy="473.4" r="1.85" fill="#e0a19a" stroke="#9c1530" stroke-width="1.2"/>
<circle cx="88.7" cy="476.9" r="1.85" fill="#e0a19a" stroke="#9c1530" stroke-width="1.2"/>
<circle cx="92.1" cy="479.4" r="1.85" fill="#e0a19a" stroke="#9c1530" stroke-width="1.2"/>
<circle cx="95.9" cy="480.4" r="1.85" fill="#e0a19a" stroke="#9c1530" stroke-width="1.2"/>
<circle cx="99.5" cy="480.8" r="1.85" fill="#e0a19a" stroke="#9c1530" stroke-width="1.2"/>
<circle cx="103.4" cy="480.8" r="1.85" fill="#e0a19a" stroke="#9c1530" stroke-width="1.2"/>
<circle cx="107.2" cy="480.4" r="1.85" fill="#e0a19a" stroke="#9c1530" stroke-width="1.2"/>
<circle cx="110.7" cy="479.9" r="1.85" fill="#e0a19a" stroke="#9c1530" stroke-width="1.2"/>
<circle cx="114.2" cy="478.6" r="1.85" fill="#e0a19a" stroke="#9c1530" stroke-width="1.2"/>
<circle cx="117.8" cy="476.1" r="1.85" fill="#e0a19a" stroke="#9c1530" stroke-width="1.2"/>
<circle cx="88.7" cy="484.3" r="1.85" fill="#e0a19a" stroke="#9c1530" stroke-width="1.2"/>
<circle cx="93.2" cy="485.4" r="1.85" fill="#e0a19a" stroke="#9c1530" stroke-width="1.2"/>
<circle cx="98.4" cy="487.0" r="1.85" fill="#e0a19a" stroke="#9c1530" stroke-width="1.2"/>
<circle cx="103.1" cy="487.8" r="1.85" fill="#e0a19a" stroke="#9c1530" stroke-width="1.2"/>
<circle cx="108.1" cy="487.3" r="1.85" fill="#e0a19a" stroke="#9c1530" stroke-width="1.2"/>
<circle cx="112.8" cy="485.6" r="1.85" fill="#e0a19a" stroke="#9c1530" stroke-width="1.2"/>
<circle cx="117.8" cy="484.5" r="1.85" fill="#e0a19a" stroke="#9c1530" stroke-width="1.2"/>
<circle cx="90.5" cy="490.3" r="1.85" fill="#e0a19a" stroke="#9c1530" stroke-width="1.2"/>
<circle cx="95.9" cy="490.8" r="1.85" fill="#e0a19a" stroke="#9c1530" stroke-width="1.2"/>
<circle cx="110.4" cy="491.3" r="1.85" fill="#e0a19a" stroke="#9c1530" stroke-width="1.2"/>
<circle cx="115.8" cy="490.3" r="1.85" fill="#e0a19a" stroke="#9c1530" stroke-width="1.2"/>
<circle cx="101.0" cy="494.0" r="1.85" fill="#aab2d4" stroke="#2a467f" stroke-width="1.2"/>
<circle cx="105.6" cy="494.0" r="1.85" fill="#aab2d4" stroke="#2a467f" stroke-width="1.2"/>
<circle cx="88.7" cy="497.2" r="1.85" fill="#aab2d4" stroke="#2a467f" stroke-width="1.2"/>
<circle cx="93.8" cy="497.8" r="1.85" fill="#aab2d4" stroke="#2a467f" stroke-width="1.2"/>
<circle cx="98.4" cy="499.2" r="1.85" fill="#aab2d4" stroke="#2a467f" stroke-width="1.2"/>
<circle cx="103.4" cy="500.7" r="1.85" fill="#aab2d4" stroke="#2a467f" stroke-width="1.2"/>
<circle cx="108.1" cy="499.2" r="1.85" fill="#aab2d4" stroke="#2a467f" stroke-width="1.2"/>
<circle cx="113.1" cy="498.1" r="1.85" fill="#aab2d4" stroke="#2a467f" stroke-width="1.2"/>
<circle cx="118.0" cy="497.2" r="1.85" fill="#aab2d4" stroke="#2a467f" stroke-width="1.2"/>
<circle cx="93.0" cy="502.8" r="1.85" fill="#aab2d4" stroke="#2a467f" stroke-width="1.2"/>
<circle cx="108.1" cy="502.8" r="1.85" fill="#aab2d4" stroke="#2a467f" stroke-width="1.2"/>
<circle cx="113.1" cy="502.8" r="1.85" fill="#aab2d4" stroke="#2a467f" stroke-width="1.2"/>
<circle cx="98.4" cy="506.0" r="1.85" fill="#aab2d4" stroke="#2a467f" stroke-width="1.2"/>
<circle cx="103.4" cy="507.8" r="1.85" fill="#aab2d4" stroke="#2a467f" stroke-width="1.2"/>
<circle cx="88.7" cy="509.6" r="1.85" fill="#aab2d4" stroke="#2a467f" stroke-width="1.2"/>
<circle cx="93.4" cy="511.0" r="1.85" fill="#aab2d4" stroke="#2a467f" stroke-width="1.2"/>
<circle cx="98.4" cy="512.5" r="1.85" fill="#aab2d4" stroke="#2a467f" stroke-width="1.2"/>
<circle cx="103.4" cy="512.8" r="1.85" fill="#aab2d4" stroke="#2a467f" stroke-width="1.2"/>
<circle cx="108.1" cy="512.5" r="1.85" fill="#aab2d4" stroke="#2a467f" stroke-width="1.2"/>
<circle cx="113.1" cy="511.8" r="1.85" fill="#aab2d4" stroke="#2a467f" stroke-width="1.2"/>
<circle cx="118.0" cy="510.7" r="1.85" fill="#aab2d4" stroke="#2a467f" stroke-width="1.2"/>
<circle cx="95.4" cy="514.7" r="1.85" fill="#aab2d4" stroke="#2a467f" stroke-width="1.2"/>
<circle cx="100.8" cy="516.6" r="1.85" fill="#aab2d4" stroke="#2a467f" stroke-width="1.2"/>
<circle cx="108.1" cy="517.7" r="1.85" fill="#aab2d4" stroke="#2a467f" stroke-width="1.2"/>
<circle cx="113.1" cy="515.5" r="1.85" fill="#aab2d4" stroke="#2a467f" stroke-width="1.2"/>
<circle cx="111.0" cy="520.0" r="1.85" fill="#aab2d4" stroke="#2a467f" stroke-width="1.2"/>
<circle cx="95.9" cy="521.1" r="1.85" fill="#aab2d4" stroke="#2a467f" stroke-width="1.2"/>
<circle cx="101.0" cy="523.9" r="1.85" fill="#aab2d4" stroke="#2a467f" stroke-width="1.2"/>
<circle cx="105.9" cy="522.5" r="1.85" fill="#aab2d4" stroke="#2a467f" stroke-width="1.2"/>
<line x1="86.20" y1="491.30" x2="120.10" y2="491.30" stroke="#1e1014" stroke-width="1.6"/>
<rect x="78" y="429" width="50.69999999999999" height="107.29999999999995" fill="none" stroke="#161010" stroke-width="1.65"/>
<line x1="74.50" y1="429.00" x2="78.00" y2="429.00" stroke="#161010" stroke-width="1.2"/>
<text x="71.60" y="431.90" font-size="9.6" text-anchor="end" font-weight="normal" fill="#222" stroke="#222" stroke-width="0.06" >100</text>
<line x1="74.50" y1="455.50" x2="78.00" y2="455.50" stroke="#161010" stroke-width="1.2"/>
<text x="71.60" y="458.40" font-size="9.6" text-anchor="end" font-weight="normal" fill="#222" stroke="#222" stroke-width="0.06" >75</text>
<line x1="74.50" y1="482.70" x2="78.00" y2="482.70" stroke="#161010" stroke-width="1.2"/>
<text x="71.60" y="485.60" font-size="9.6" text-anchor="end" font-weight="normal" fill="#222" stroke="#222" stroke-width="0.06" >50</text>
<line x1="74.50" y1="509.20" x2="78.00" y2="509.20" stroke="#161010" stroke-width="1.2"/>
<text x="71.60" y="512.10" font-size="9.6" text-anchor="end" font-weight="normal" fill="#222" stroke="#222" stroke-width="0.06" >25</text>
<line x1="74.50" y1="536.30" x2="78.00" y2="536.30" stroke="#161010" stroke-width="1.2"/>
<text x="71.60" y="539.20" font-size="9.6" text-anchor="end" font-weight="normal" fill="#222" stroke="#222" stroke-width="0.06" >0</text>
<text x="0" y="0" font-size="10" text-anchor="middle" fill="#222" stroke="#222" stroke-width="0.06" transform="translate(32.50,483.20) rotate(-90)" dy="3.6">% CD62L<tspan font-size="7" dy="-4">+</tspan><tspan dy="4"> / NK cells at</tspan></text>
<text x="0" y="0" font-size="10" text-anchor="middle" fill="#222" stroke="#222" stroke-width="0.06" transform="translate(46.20,483.20) rotate(-90)" dy="3.6">day 30</text>
<text x="103.85" y="547.50" font-size="7.1" text-anchor="middle" font-weight="normal" fill="#333" stroke="#333" stroke-width="0.06" >n=59</text>
<path d="M193.90,531.90 L195.25,531.90 L195.25,528.85 L196.43,528.85 L196.43,525.30 L209.24,525.30 L209.24,521.74 L213.75,521.74 L213.75,518.39 L317.08,518.39" fill="none" stroke="#1f3157" stroke-width="1.75" stroke-linejoin="miter"/>
<line x1="220.97" y1="516.79" x2="220.97" y2="519.99" stroke="#1f3157" stroke-width="1.0"/>
<line x1="230.00" y1="516.79" x2="230.00" y2="519.99" stroke="#1f3157" stroke-width="1.0"/>
<line x1="243.53" y1="516.79" x2="243.53" y2="519.99" stroke="#1f3157" stroke-width="1.0"/>
<line x1="252.56" y1="516.79" x2="252.56" y2="519.99" stroke="#1f3157" stroke-width="1.0"/>
<line x1="261.58" y1="516.79" x2="261.58" y2="519.99" stroke="#1f3157" stroke-width="1.0"/>
<line x1="270.60" y1="516.79" x2="270.60" y2="519.99" stroke="#1f3157" stroke-width="1.0"/>
<line x1="275.12" y1="516.79" x2="275.12" y2="519.99" stroke="#1f3157" stroke-width="1.0"/>
<line x1="306.70" y1="516.79" x2="306.70" y2="519.99" stroke="#1f3157" stroke-width="1.0"/>
<path d="M193.90,531.90 L195.25,531.90 L195.25,528.85 L196.43,528.85 L196.43,521.74 L202.02,521.74 L202.02,515.64 L209.24,515.64 L209.24,512.60 L211.95,512.60 L211.95,508.53 L214.66,508.53 L214.66,505.48 L219.17,505.48 L219.17,501.42 L221.87,501.42 L221.87,498.37 L225.48,498.37 L225.48,491.26 L317.08,491.26" fill="none" stroke="#7e1132" stroke-width="1.75" stroke-linejoin="miter"/>
<line x1="230.00" y1="489.66" x2="230.00" y2="492.86" stroke="#7e1132" stroke-width="1.0"/>
<line x1="236.76" y1="489.66" x2="236.76" y2="492.86" stroke="#7e1132" stroke-width="1.0"/>
<line x1="248.04" y1="489.66" x2="248.04" y2="492.86" stroke="#7e1132" stroke-width="1.0"/>
<line x1="257.07" y1="489.66" x2="257.07" y2="492.86" stroke="#7e1132" stroke-width="1.0"/>
<line x1="266.09" y1="489.66" x2="266.09" y2="492.86" stroke="#7e1132" stroke-width="1.0"/>
<line x1="272.86" y1="489.66" x2="272.86" y2="492.86" stroke="#7e1132" stroke-width="1.0"/>
<rect x="189.2" y="426.2" width="127.30000000000001" height="110.40000000000003" fill="none" stroke="#161010" stroke-width="1.5"/>
<line x1="185.70" y1="531.90" x2="189.20" y2="531.90" stroke="#161010" stroke-width="1.2"/>
<text x="182.20" y="535.35" font-size="9.6" text-anchor="end" font-weight="normal" fill="#222" stroke="#222" stroke-width="0.06" >0.0</text>
<line x1="185.70" y1="511.58" x2="189.20" y2="511.58" stroke="#161010" stroke-width="1.2"/>
<text x="182.20" y="515.03" font-size="9.6" text-anchor="end" font-weight="normal" fill="#222" stroke="#222" stroke-width="0.06" >0.2</text>
<line x1="185.70" y1="491.26" x2="189.20" y2="491.26" stroke="#161010" stroke-width="1.2"/>
<text x="182.20" y="494.71" font-size="9.6" text-anchor="end" font-weight="normal" fill="#222" stroke="#222" stroke-width="0.06" >0.4</text>
<line x1="185.70" y1="470.94" x2="189.20" y2="470.94" stroke="#161010" stroke-width="1.2"/>
<text x="182.20" y="474.39" font-size="9.6" text-anchor="end" font-weight="normal" fill="#222" stroke="#222" stroke-width="0.06" >0.6</text>
<line x1="185.70" y1="450.62" x2="189.20" y2="450.62" stroke="#161010" stroke-width="1.2"/>
<text x="182.20" y="454.07" font-size="9.6" text-anchor="end" font-weight="normal" fill="#222" stroke="#222" stroke-width="0.06" >0.8</text>
<line x1="185.70" y1="430.30" x2="189.20" y2="430.30" stroke="#161010" stroke-width="1.2"/>
<text x="182.20" y="433.75" font-size="9.6" text-anchor="end" font-weight="normal" fill="#222" stroke="#222" stroke-width="0.06" >1.0</text>
<line x1="193.90" y1="536.60" x2="193.90" y2="540.10" stroke="#161010" stroke-width="1.2"/>
<text x="193.90" y="551.90" font-size="9.6" text-anchor="middle" font-weight="normal" fill="#222" stroke="#222" stroke-width="0.06" >0</text>
<line x1="216.46" y1="536.60" x2="216.46" y2="540.10" stroke="#161010" stroke-width="1.2"/>
<text x="216.46" y="551.90" font-size="9.6" text-anchor="middle" font-weight="normal" fill="#222" stroke="#222" stroke-width="0.06" >5</text>
<line x1="239.02" y1="536.60" x2="239.02" y2="540.10" stroke="#161010" stroke-width="1.2"/>
<text x="239.02" y="551.90" font-size="9.6" text-anchor="middle" font-weight="normal" fill="#222" stroke="#222" stroke-width="0.06" >10</text>
<line x1="261.58" y1="536.60" x2="261.58" y2="540.10" stroke="#161010" stroke-width="1.2"/>
<text x="261.58" y="551.90" font-size="9.6" text-anchor="middle" font-weight="normal" fill="#222" stroke="#222" stroke-width="0.06" >15</text>
<line x1="284.14" y1="536.60" x2="284.14" y2="540.10" stroke="#161010" stroke-width="1.2"/>
<text x="284.14" y="551.90" font-size="9.6" text-anchor="middle" font-weight="normal" fill="#222" stroke="#222" stroke-width="0.06" >20</text>
<line x1="306.70" y1="536.60" x2="306.70" y2="540.10" stroke="#161010" stroke-width="1.2"/>
<text x="306.70" y="551.90" font-size="9.6" text-anchor="middle" font-weight="normal" fill="#222" stroke="#222" stroke-width="0.06" >25</text>
<text x="252.85" y="567.20" font-size="10" text-anchor="middle" font-weight="normal" fill="#222" stroke="#222" stroke-width="0.06" >Time from HSCT (months)</text>
<text x="0" y="0" font-size="10" text-anchor="middle" fill="#222" stroke="#222" stroke-width="0.06" transform="translate(159.20,481.40) rotate(-90)" dy="3.6">CI of relapse</text>
<text x="313.50" y="438.30" font-size="8.7" text-anchor="end" font-weight="normal" fill="#222" stroke="#222" stroke-width="0.06" >p=0.03</text>
<text x="187.60" y="580.70" font-size="8.9" text-anchor="start" font-weight="normal" fill="#222" stroke="#222" stroke-width="0.06" >Number at risk</text>
<rect x="150.80" y="586.30" width="34.5" height="8" fill="#2a4474"/>
<text x="168.05" y="592.70" font-size="7" text-anchor="middle" font-weight="normal" fill="#fff" stroke="#fff" stroke-width="0" >&lt; median</text>
<text x="193.90" y="593.40" font-size="9" text-anchor="middle" font-weight="normal" fill="#222" stroke="#222" stroke-width="0.06" >29</text>
<text x="216.46" y="593.40" font-size="9" text-anchor="middle" font-weight="normal" fill="#222" stroke="#222" stroke-width="0.06" >19</text>
<text x="239.02" y="593.40" font-size="9" text-anchor="middle" font-weight="normal" fill="#222" stroke="#222" stroke-width="0.06" >16</text>
<text x="261.58" y="593.40" font-size="9" text-anchor="middle" font-weight="normal" fill="#222" stroke="#222" stroke-width="0.06" >12</text>
<text x="284.14" y="593.40" font-size="9" text-anchor="middle" font-weight="normal" fill="#222" stroke="#222" stroke-width="0.06" >8</text>
<text x="306.70" y="593.40" font-size="9" text-anchor="middle" font-weight="normal" fill="#222" stroke="#222" stroke-width="0.06" >7</text>
<rect x="150.80" y="599.80" width="34.5" height="8" fill="#9c1636"/>
<text x="168.05" y="606.20" font-size="7" text-anchor="middle" font-weight="normal" fill="#fff" stroke="#fff" stroke-width="0" >&#8805; median</text>
<text x="193.90" y="606.90" font-size="9" text-anchor="middle" font-weight="normal" fill="#222" stroke="#222" stroke-width="0.06" >30</text>
<text x="216.46" y="606.90" font-size="9" text-anchor="middle" font-weight="normal" fill="#222" stroke="#222" stroke-width="0.06" >18</text>
<text x="239.02" y="606.90" font-size="9" text-anchor="middle" font-weight="normal" fill="#222" stroke="#222" stroke-width="0.06" >11</text>
<text x="261.58" y="606.90" font-size="9" text-anchor="middle" font-weight="normal" fill="#222" stroke="#222" stroke-width="0.06" >8</text>
<text x="284.14" y="606.90" font-size="9" text-anchor="middle" font-weight="normal" fill="#222" stroke="#222" stroke-width="0.06" >5</text>
<text x="306.70" y="606.90" font-size="9" text-anchor="middle" font-weight="normal" fill="#222" stroke="#222" stroke-width="0.06" >5</text>
<path d="M379.20,430.30 L384.35,430.30 L384.35,433.04 L386.59,433.04 L386.59,437.11 L388.38,437.11 L388.38,441.17 L389.71,441.17 L389.71,447.17 L395.77,447.17 L395.77,451.94 L398.48,451.94 L398.48,454.58 L400.52,454.58 L400.52,460.78 L402.51,460.78 L402.51,462.81 L403.88,462.81 L403.88,464.84 L430.81,464.84 L430.81,468.91 L441.57,468.91 L441.57,473.58 L506.70,473.58" fill="none" stroke="#1f3157" stroke-width="1.75" stroke-linejoin="miter"/>
<line x1="412.35" y1="463.24" x2="412.35" y2="466.44" stroke="#1f3157" stroke-width="1.0"/>
<line x1="425.10" y1="463.24" x2="425.10" y2="466.44" stroke="#1f3157" stroke-width="1.0"/>
<line x1="430.20" y1="463.24" x2="430.20" y2="466.44" stroke="#1f3157" stroke-width="1.0"/>
<line x1="437.85" y1="467.31" x2="437.85" y2="470.51" stroke="#1f3157" stroke-width="1.0"/>
<line x1="455.70" y1="471.98" x2="455.70" y2="475.18" stroke="#1f3157" stroke-width="1.0"/>
<line x1="463.35" y1="471.98" x2="463.35" y2="475.18" stroke="#1f3157" stroke-width="1.0"/>
<line x1="468.45" y1="471.98" x2="468.45" y2="475.18" stroke="#1f3157" stroke-width="1.0"/>
<line x1="506.70" y1="471.98" x2="506.70" y2="475.18" stroke="#1f3157" stroke-width="1.0"/>
<path d="M379.20,430.30 L383.79,430.30 L383.79,433.35 L384.81,433.35 L384.81,440.46 L385.68,440.46 L385.68,446.56 L389.04,446.56 L389.04,453.67 L391.08,453.67 L391.08,460.78 L397.81,460.78 L397.81,464.03 L402.51,464.03 L402.51,466.67 L405.21,466.67 L405.21,471.45 L411.28,471.45 L411.28,476.83 L416.63,476.83 L416.63,484.15 L506.70,484.15" fill="none" stroke="#7e1132" stroke-width="1.75" stroke-linejoin="miter"/>
<line x1="425.10" y1="482.55" x2="425.10" y2="485.75" stroke="#7e1132" stroke-width="1.0"/>
<line x1="430.20" y1="482.55" x2="430.20" y2="485.75" stroke="#7e1132" stroke-width="1.0"/>
<line x1="448.05" y1="482.55" x2="448.05" y2="485.75" stroke="#7e1132" stroke-width="1.0"/>
<line x1="453.15" y1="482.55" x2="453.15" y2="485.75" stroke="#7e1132" stroke-width="1.0"/>
<line x1="460.80" y1="482.55" x2="460.80" y2="485.75" stroke="#7e1132" stroke-width="1.0"/>
<rect x="379.2" y="426.2" width="127.5" height="110.40000000000003" fill="none" stroke="#161010" stroke-width="1.5"/>
<line x1="375.70" y1="531.90" x2="379.20" y2="531.90" stroke="#161010" stroke-width="1.2"/>
<text x="372.20" y="535.35" font-size="9.6" text-anchor="end" font-weight="normal" fill="#222" stroke="#222" stroke-width="0.06" >0.0</text>
<line x1="375.70" y1="511.58" x2="379.20" y2="511.58" stroke="#161010" stroke-width="1.2"/>
<text x="372.20" y="515.03" font-size="9.6" text-anchor="end" font-weight="normal" fill="#222" stroke="#222" stroke-width="0.06" >0.2</text>
<line x1="375.70" y1="491.26" x2="379.20" y2="491.26" stroke="#161010" stroke-width="1.2"/>
<text x="372.20" y="494.71" font-size="9.6" text-anchor="end" font-weight="normal" fill="#222" stroke="#222" stroke-width="0.06" >0.4</text>
<line x1="375.70" y1="470.94" x2="379.20" y2="470.94" stroke="#161010" stroke-width="1.2"/>
<text x="372.20" y="474.39" font-size="9.6" text-anchor="end" font-weight="normal" fill="#222" stroke="#222" stroke-width="0.06" >0.6</text>
<line x1="375.70" y1="450.62" x2="379.20" y2="450.62" stroke="#161010" stroke-width="1.2"/>
<text x="372.20" y="454.07" font-size="9.6" text-anchor="end" font-weight="normal" fill="#222" stroke="#222" stroke-width="0.06" >0.8</text>
<line x1="375.70" y1="430.30" x2="379.20" y2="430.30" stroke="#161010" stroke-width="1.2"/>
<text x="372.20" y="433.75" font-size="9.6" text-anchor="end" font-weight="normal" fill="#222" stroke="#222" stroke-width="0.06" >1.0</text>
<line x1="379.20" y1="536.60" x2="379.20" y2="540.10" stroke="#161010" stroke-width="1.2"/>
<text x="379.20" y="551.90" font-size="9.6" text-anchor="middle" font-weight="normal" fill="#222" stroke="#222" stroke-width="0.06" >0</text>
<line x1="404.70" y1="536.60" x2="404.70" y2="540.10" stroke="#161010" stroke-width="1.2"/>
<text x="404.70" y="551.90" font-size="9.6" text-anchor="middle" font-weight="normal" fill="#222" stroke="#222" stroke-width="0.06" >5</text>
<line x1="430.20" y1="536.60" x2="430.20" y2="540.10" stroke="#161010" stroke-width="1.2"/>
<text x="430.20" y="551.90" font-size="9.6" text-anchor="middle" font-weight="normal" fill="#222" stroke="#222" stroke-width="0.06" >10</text>
<line x1="455.70" y1="536.60" x2="455.70" y2="540.10" stroke="#161010" stroke-width="1.2"/>
<text x="455.70" y="551.90" font-size="9.6" text-anchor="middle" font-weight="normal" fill="#222" stroke="#222" stroke-width="0.06" >15</text>
<line x1="481.20" y1="536.60" x2="481.20" y2="540.10" stroke="#161010" stroke-width="1.2"/>
<text x="481.20" y="551.90" font-size="9.6" text-anchor="middle" font-weight="normal" fill="#222" stroke="#222" stroke-width="0.06" >20</text>
<line x1="506.70" y1="536.60" x2="506.70" y2="540.10" stroke="#161010" stroke-width="1.2"/>
<text x="506.70" y="551.90" font-size="9.6" text-anchor="middle" font-weight="normal" fill="#222" stroke="#222" stroke-width="0.06" >25</text>
<text x="442.95" y="567.20" font-size="10" text-anchor="middle" font-weight="normal" fill="#222" stroke="#222" stroke-width="0.06" >Time from HSCT (months)</text>
<text x="0" y="0" font-size="10" text-anchor="middle" fill="#222" stroke="#222" stroke-width="0.06" transform="translate(348.80,481.40) rotate(-90)" dy="3.6">Probability of PFS</text>
<text x="503.70" y="438.30" font-size="8.7" text-anchor="end" font-weight="normal" fill="#222" stroke="#222" stroke-width="0.06" >p=0.33</text>
<text x="375.00" y="580.70" font-size="8.9" text-anchor="start" font-weight="normal" fill="#222" stroke="#222" stroke-width="0.06" >Number at risk</text>
<rect x="336.30" y="586.30" width="34.5" height="8" fill="#2a4474"/>
<text x="353.55" y="592.70" font-size="7" text-anchor="middle" font-weight="normal" fill="#fff" stroke="#fff" stroke-width="0" >&lt; median</text>
<text x="379.20" y="593.40" font-size="9" text-anchor="middle" font-weight="normal" fill="#222" stroke="#222" stroke-width="0.06" >29</text>
<text x="404.70" y="593.40" font-size="9" text-anchor="middle" font-weight="normal" fill="#222" stroke="#222" stroke-width="0.06" >19</text>
<text x="430.20" y="593.40" font-size="9" text-anchor="middle" font-weight="normal" fill="#222" stroke="#222" stroke-width="0.06" >16</text>
<text x="455.70" y="593.40" font-size="9" text-anchor="middle" font-weight="normal" fill="#222" stroke="#222" stroke-width="0.06" >12</text>
<text x="481.20" y="593.40" font-size="9" text-anchor="middle" font-weight="normal" fill="#222" stroke="#222" stroke-width="0.06" >8</text>
<text x="506.70" y="593.40" font-size="9" text-anchor="middle" font-weight="normal" fill="#222" stroke="#222" stroke-width="0.06" >7</text>
<rect x="336.30" y="599.80" width="34.5" height="8" fill="#9c1636"/>
<text x="353.55" y="606.20" font-size="7" text-anchor="middle" font-weight="normal" fill="#fff" stroke="#fff" stroke-width="0" >&#8805; median</text>
<text x="379.20" y="606.90" font-size="9" text-anchor="middle" font-weight="normal" fill="#222" stroke="#222" stroke-width="0.06" >30</text>
<text x="404.70" y="606.90" font-size="9" text-anchor="middle" font-weight="normal" fill="#222" stroke="#222" stroke-width="0.06" >18</text>
<text x="430.20" y="606.90" font-size="9" text-anchor="middle" font-weight="normal" fill="#222" stroke="#222" stroke-width="0.06" >11</text>
<text x="455.70" y="606.90" font-size="9" text-anchor="middle" font-weight="normal" fill="#222" stroke="#222" stroke-width="0.06" >8</text>
<text x="481.20" y="606.90" font-size="9" text-anchor="middle" font-weight="normal" fill="#222" stroke="#222" stroke-width="0.06" >5</text>
<text x="506.70" y="606.90" font-size="9" text-anchor="middle" font-weight="normal" fill="#222" stroke="#222" stroke-width="0.06" >5</text>
<text x="9.60" y="623.50" font-size="13.8" text-anchor="start" font-weight="bold" fill="#111" stroke="#111" stroke-width="0.06" >D</text>
<rect x="78" y="629.3" width="51.30000000000001" height="78.10000000000002" fill="#cf8e80"/>
<rect x="78" y="707.4" width="51.30000000000001" height="31.300000000000068" fill="#959cbf"/>
<circle cx="103.8" cy="640.3" r="1.85" fill="#e0a19a" stroke="#9c1530" stroke-width="1.2"/>
<circle cx="103.8" cy="659.2" r="1.85" fill="#e0a19a" stroke="#9c1530" stroke-width="1.2"/>
<circle cx="103.8" cy="671.1" r="1.85" fill="#e0a19a" stroke="#9c1530" stroke-width="1.2"/>
<circle cx="101.0" cy="678.0" r="1.85" fill="#e0a19a" stroke="#9c1530" stroke-width="1.2"/>
<circle cx="106.1" cy="678.8" r="1.85" fill="#e0a19a" stroke="#9c1530" stroke-width="1.2"/>
<circle cx="91.1" cy="683.0" r="1.85" fill="#e0a19a" stroke="#9c1530" stroke-width="1.2"/>
<circle cx="116.2" cy="683.2" r="1.85" fill="#e0a19a" stroke="#9c1530" stroke-width="1.2"/>
<circle cx="95.9" cy="686.7" r="1.85" fill="#e0a19a" stroke="#9c1530" stroke-width="1.2"/>
<circle cx="103.8" cy="687.0" r="1.85" fill="#e0a19a" stroke="#9c1530" stroke-width="1.2"/>
<circle cx="111.3" cy="687.0" r="1.85" fill="#e0a19a" stroke="#9c1530" stroke-width="1.2"/>
<circle cx="98.6" cy="691.3" r="1.85" fill="#e0a19a" stroke="#9c1530" stroke-width="1.2"/>
<circle cx="103.8" cy="692.4" r="1.85" fill="#e0a19a" stroke="#9c1530" stroke-width="1.2"/>
<circle cx="108.8" cy="690.8" r="1.85" fill="#e0a19a" stroke="#9c1530" stroke-width="1.2"/>
<circle cx="88.7" cy="696.4" r="1.85" fill="#e0a19a" stroke="#9c1530" stroke-width="1.2"/>
<circle cx="93.0" cy="697.0" r="1.85" fill="#e0a19a" stroke="#9c1530" stroke-width="1.2"/>
<circle cx="97.3" cy="697.8" r="1.85" fill="#e0a19a" stroke="#9c1530" stroke-width="1.2"/>
<circle cx="101.6" cy="698.5" r="1.85" fill="#e0a19a" stroke="#9c1530" stroke-width="1.2"/>
<circle cx="105.9" cy="698.5" r="1.85" fill="#e0a19a" stroke="#9c1530" stroke-width="1.2"/>
<circle cx="110.2" cy="697.4" r="1.85" fill="#e0a19a" stroke="#9c1530" stroke-width="1.2"/>
<circle cx="114.2" cy="697.0" r="1.85" fill="#e0a19a" stroke="#9c1530" stroke-width="1.2"/>
<circle cx="118.8" cy="696.4" r="1.85" fill="#e0a19a" stroke="#9c1530" stroke-width="1.2"/>
<circle cx="91.1" cy="701.7" r="1.85" fill="#e0a19a" stroke="#9c1530" stroke-width="1.2"/>
<circle cx="95.9" cy="703.0" r="1.85" fill="#e0a19a" stroke="#9c1530" stroke-width="1.2"/>
<circle cx="103.8" cy="703.7" r="1.85" fill="#e0a19a" stroke="#9c1530" stroke-width="1.2"/>
<circle cx="111.0" cy="702.6" r="1.85" fill="#e0a19a" stroke="#9c1530" stroke-width="1.2"/>
<circle cx="116.4" cy="701.0" r="1.85" fill="#e0a19a" stroke="#9c1530" stroke-width="1.2"/>
<circle cx="93.2" cy="705.9" r="1.85" fill="#e0a19a" stroke="#9c1530" stroke-width="1.2"/>
<circle cx="98.6" cy="706.4" r="1.85" fill="#e0a19a" stroke="#9c1530" stroke-width="1.2"/>
<circle cx="108.3" cy="706.9" r="1.85" fill="#e0a19a" stroke="#9c1530" stroke-width="1.2"/>
<circle cx="113.7" cy="705.9" r="1.85" fill="#e0a19a" stroke="#9c1530" stroke-width="1.2"/>
<circle cx="103.8" cy="710.4" r="1.85" fill="#aab2d4" stroke="#2a467f" stroke-width="1.2"/>
<circle cx="93.2" cy="713.4" r="1.85" fill="#aab2d4" stroke="#2a467f" stroke-width="1.2"/>
<circle cx="98.6" cy="714.2" r="1.85" fill="#aab2d4" stroke="#2a467f" stroke-width="1.2"/>
<circle cx="108.8" cy="713.9" r="1.85" fill="#aab2d4" stroke="#2a467f" stroke-width="1.2"/>
<circle cx="113.7" cy="712.3" r="1.85" fill="#aab2d4" stroke="#2a467f" stroke-width="1.2"/>
<circle cx="88.7" cy="716.6" r="1.85" fill="#aab2d4" stroke="#2a467f" stroke-width="1.2"/>
<circle cx="93.2" cy="717.7" r="1.85" fill="#aab2d4" stroke="#2a467f" stroke-width="1.2"/>
<circle cx="103.8" cy="715.5" r="1.85" fill="#aab2d4" stroke="#2a467f" stroke-width="1.2"/>
<circle cx="118.5" cy="716.6" r="1.85" fill="#aab2d4" stroke="#2a467f" stroke-width="1.2"/>
<circle cx="114.2" cy="717.7" r="1.85" fill="#aab2d4" stroke="#2a467f" stroke-width="1.2"/>
<circle cx="91.1" cy="721.4" r="1.85" fill="#aab2d4" stroke="#2a467f" stroke-width="1.2"/>
<circle cx="95.9" cy="719.0" r="1.85" fill="#aab2d4" stroke="#2a467f" stroke-width="1.2"/>
<circle cx="100.2" cy="720.7" r="1.85" fill="#aab2d4" stroke="#2a467f" stroke-width="1.2"/>
<circle cx="103.8" cy="720.9" r="1.85" fill="#aab2d4" stroke="#2a467f" stroke-width="1.2"/>
<circle cx="107.8" cy="720.9" r="1.85" fill="#aab2d4" stroke="#2a467f" stroke-width="1.2"/>
<circle cx="111.0" cy="720.0" r="1.85" fill="#aab2d4" stroke="#2a467f" stroke-width="1.2"/>
<circle cx="116.4" cy="722.2" r="1.85" fill="#aab2d4" stroke="#2a467f" stroke-width="1.2"/>
<circle cx="95.9" cy="724.1" r="1.85" fill="#aab2d4" stroke="#2a467f" stroke-width="1.2"/>
<circle cx="101.3" cy="725.7" r="1.85" fill="#aab2d4" stroke="#2a467f" stroke-width="1.2"/>
<circle cx="106.1" cy="726.3" r="1.85" fill="#aab2d4" stroke="#2a467f" stroke-width="1.2"/>
<circle cx="111.0" cy="725.2" r="1.85" fill="#aab2d4" stroke="#2a467f" stroke-width="1.2"/>
<circle cx="88.7" cy="727.1" r="1.85" fill="#aab2d4" stroke="#2a467f" stroke-width="1.2"/>
<circle cx="93.2" cy="727.6" r="1.85" fill="#aab2d4" stroke="#2a467f" stroke-width="1.2"/>
<circle cx="97.5" cy="729.0" r="1.85" fill="#aab2d4" stroke="#2a467f" stroke-width="1.2"/>
<circle cx="105.3" cy="729.5" r="1.85" fill="#aab2d4" stroke="#2a467f" stroke-width="1.2"/>
<circle cx="110.2" cy="727.9" r="1.85" fill="#aab2d4" stroke="#2a467f" stroke-width="1.2"/>
<circle cx="114.2" cy="727.4" r="1.85" fill="#aab2d4" stroke="#2a467f" stroke-width="1.2"/>
<circle cx="118.8" cy="727.4" r="1.85" fill="#aab2d4" stroke="#2a467f" stroke-width="1.2"/>
<circle cx="101.6" cy="732.5" r="1.85" fill="#aab2d4" stroke="#2a467f" stroke-width="1.2"/>
<line x1="86.20" y1="707.40" x2="120.10" y2="707.40" stroke="#1e1014" stroke-width="1.6"/>
<rect x="78" y="629.3" width="51.30000000000001" height="109.40000000000009" fill="none" stroke="#161010" stroke-width="1.65"/>
<line x1="74.50" y1="629.30" x2="78.00" y2="629.30" stroke="#161010" stroke-width="1.2"/>
<text x="71.60" y="632.20" font-size="9.6" text-anchor="end" font-weight="normal" fill="#222" stroke="#222" stroke-width="0.06" >75</text>
<line x1="74.50" y1="665.80" x2="78.00" y2="665.80" stroke="#161010" stroke-width="1.2"/>
<text x="71.60" y="668.70" font-size="9.6" text-anchor="end" font-weight="normal" fill="#222" stroke="#222" stroke-width="0.06" >50</text>
<line x1="74.50" y1="702.50" x2="78.00" y2="702.50" stroke="#161010" stroke-width="1.2"/>
<text x="71.60" y="705.40" font-size="9.6" text-anchor="end" font-weight="normal" fill="#222" stroke="#222" stroke-width="0.06" >25</text>
<line x1="74.50" y1="738.70" x2="78.00" y2="738.70" stroke="#161010" stroke-width="1.2"/>
<text x="71.60" y="741.60" font-size="9.6" text-anchor="end" font-weight="normal" fill="#222" stroke="#222" stroke-width="0.06" >0</text>
<text x="0" y="0" font-size="10" text-anchor="middle" fill="#222" stroke="#222" stroke-width="0.06" transform="translate(37.70,684.50) rotate(-90)" dy="3.6">% of KIR<tspan font-size="7" dy="-4">+</tspan><tspan dy="4"> / NK cells at</tspan></text>
<text x="0" y="0" font-size="10" text-anchor="middle" fill="#222" stroke="#222" stroke-width="0.06" transform="translate(50.60,684.50) rotate(-90)" dy="3.6">day 30</text>
<text x="104.15" y="749.90" font-size="7.1" text-anchor="middle" font-weight="normal" fill="#333" stroke="#333" stroke-width="0.06" >n=59</text>
<path d="M193.90,735.10 L194.80,735.10 L194.80,732.03 L195.70,732.03 L195.70,727.93 L198.86,727.93 L198.86,720.76 L203.82,720.76 L203.82,713.60 L207.42,713.60 L207.42,710.52 L209.68,710.52 L209.68,706.43 L212.83,706.43 L212.83,700.28 L216.44,700.28 L216.44,696.19 L221.85,696.19 L221.85,690.04 L225.46,690.04 L225.46,685.95 L316.97,685.95" fill="none" stroke="#1f3157" stroke-width="1.75" stroke-linejoin="miter"/>
<line x1="234.47" y1="684.35" x2="234.47" y2="687.55" stroke="#1f3157" stroke-width="1.0"/>
<line x1="245.74" y1="684.35" x2="245.74" y2="687.55" stroke="#1f3157" stroke-width="1.0"/>
<line x1="257.01" y1="684.35" x2="257.01" y2="687.55" stroke="#1f3157" stroke-width="1.0"/>
<line x1="263.77" y1="684.35" x2="263.77" y2="687.55" stroke="#1f3157" stroke-width="1.0"/>
<line x1="270.54" y1="684.35" x2="270.54" y2="687.55" stroke="#1f3157" stroke-width="1.0"/>
<line x1="277.30" y1="684.35" x2="277.30" y2="687.55" stroke="#1f3157" stroke-width="1.0"/>
<path d="M193.90,735.10 L195.70,735.10 L195.70,732.13 L226.81,732.13 L226.81,728.55 L316.97,728.55" fill="none" stroke="#7e1132" stroke-width="1.75" stroke-linejoin="miter"/>
<line x1="234.47" y1="726.95" x2="234.47" y2="730.15" stroke="#7e1132" stroke-width="1.0"/>
<line x1="243.49" y1="726.95" x2="243.49" y2="730.15" stroke="#7e1132" stroke-width="1.0"/>
<line x1="252.50" y1="726.95" x2="252.50" y2="730.15" stroke="#7e1132" stroke-width="1.0"/>
<line x1="259.27" y1="726.95" x2="259.27" y2="730.15" stroke="#7e1132" stroke-width="1.0"/>
<line x1="266.03" y1="726.95" x2="266.03" y2="730.15" stroke="#7e1132" stroke-width="1.0"/>
<line x1="272.79" y1="726.95" x2="272.79" y2="730.15" stroke="#7e1132" stroke-width="1.0"/>
<line x1="279.55" y1="726.95" x2="279.55" y2="730.15" stroke="#7e1132" stroke-width="1.0"/>
<rect x="189.2" y="629" width="127.30000000000001" height="110.0" fill="none" stroke="#161010" stroke-width="1.5"/>
<line x1="185.70" y1="735.10" x2="189.20" y2="735.10" stroke="#161010" stroke-width="1.2"/>
<text x="182.20" y="738.55" font-size="9.6" text-anchor="end" font-weight="normal" fill="#222" stroke="#222" stroke-width="0.06" >0.0</text>
<line x1="185.70" y1="714.62" x2="189.20" y2="714.62" stroke="#161010" stroke-width="1.2"/>
<text x="182.20" y="718.07" font-size="9.6" text-anchor="end" font-weight="normal" fill="#222" stroke="#222" stroke-width="0.06" >0.2</text>
<line x1="185.70" y1="694.14" x2="189.20" y2="694.14" stroke="#161010" stroke-width="1.2"/>
<text x="182.20" y="697.59" font-size="9.6" text-anchor="end" font-weight="normal" fill="#222" stroke="#222" stroke-width="0.06" >0.4</text>
<line x1="185.70" y1="673.66" x2="189.20" y2="673.66" stroke="#161010" stroke-width="1.2"/>
<text x="182.20" y="677.11" font-size="9.6" text-anchor="end" font-weight="normal" fill="#222" stroke="#222" stroke-width="0.06" >0.6</text>
<line x1="185.70" y1="653.18" x2="189.20" y2="653.18" stroke="#161010" stroke-width="1.2"/>
<text x="182.20" y="656.63" font-size="9.6" text-anchor="end" font-weight="normal" fill="#222" stroke="#222" stroke-width="0.06" >0.8</text>
<line x1="185.70" y1="632.70" x2="189.20" y2="632.70" stroke="#161010" stroke-width="1.2"/>
<text x="182.20" y="636.15" font-size="9.6" text-anchor="end" font-weight="normal" fill="#222" stroke="#222" stroke-width="0.06" >1.0</text>
<line x1="193.90" y1="739.00" x2="193.90" y2="742.50" stroke="#161010" stroke-width="1.2"/>
<text x="193.90" y="754.30" font-size="9.6" text-anchor="middle" font-weight="normal" fill="#222" stroke="#222" stroke-width="0.06" >0</text>
<line x1="216.44" y1="739.00" x2="216.44" y2="742.50" stroke="#161010" stroke-width="1.2"/>
<text x="216.44" y="754.30" font-size="9.6" text-anchor="middle" font-weight="normal" fill="#222" stroke="#222" stroke-width="0.06" >5</text>
<line x1="238.98" y1="739.00" x2="238.98" y2="742.50" stroke="#161010" stroke-width="1.2"/>
<text x="238.98" y="754.30" font-size="9.6" text-anchor="middle" font-weight="normal" fill="#222" stroke="#222" stroke-width="0.06" >10</text>
<line x1="261.52" y1="739.00" x2="261.52" y2="742.50" stroke="#161010" stroke-width="1.2"/>
<text x="261.52" y="754.30" font-size="9.6" text-anchor="middle" font-weight="normal" fill="#222" stroke="#222" stroke-width="0.06" >15</text>
<line x1="284.06" y1="739.00" x2="284.06" y2="742.50" stroke="#161010" stroke-width="1.2"/>
<text x="284.06" y="754.30" font-size="9.6" text-anchor="middle" font-weight="normal" fill="#222" stroke="#222" stroke-width="0.06" >20</text>
<line x1="306.60" y1="739.00" x2="306.60" y2="742.50" stroke="#161010" stroke-width="1.2"/>
<text x="306.60" y="754.30" font-size="9.6" text-anchor="middle" font-weight="normal" fill="#222" stroke="#222" stroke-width="0.06" >25</text>
<text x="252.85" y="769.60" font-size="10" text-anchor="middle" font-weight="normal" fill="#222" stroke="#222" stroke-width="0.06" >Time from HSCT (months)</text>
<text x="0" y="0" font-size="10" text-anchor="middle" fill="#222" stroke="#222" stroke-width="0.06" transform="translate(159.20,684.00) rotate(-90)" dy="3.6">CI of relapse</text>
<text x="307.20" y="641.10" font-size="8.7" text-anchor="end" font-weight="normal" fill="#222" stroke="#222" stroke-width="0.06" >p=0.0003</text>
<text x="187.60" y="783.60" font-size="8.9" text-anchor="start" font-weight="normal" fill="#222" stroke="#222" stroke-width="0.06" >Number at risk</text>
<rect x="150.80" y="789.20" width="34.5" height="8" fill="#2a4474"/>
<text x="168.05" y="795.60" font-size="7" text-anchor="middle" font-weight="normal" fill="#fff" stroke="#fff" stroke-width="0" >&lt; median</text>
<text x="193.90" y="796.30" font-size="9" text-anchor="middle" font-weight="normal" fill="#222" stroke="#222" stroke-width="0.06" >29</text>
<text x="216.44" y="796.30" font-size="9" text-anchor="middle" font-weight="normal" fill="#222" stroke="#222" stroke-width="0.06" >14</text>
<text x="238.98" y="796.30" font-size="9" text-anchor="middle" font-weight="normal" fill="#222" stroke="#222" stroke-width="0.06" >9</text>
<text x="261.52" y="796.30" font-size="9" text-anchor="middle" font-weight="normal" fill="#222" stroke="#222" stroke-width="0.06" >5</text>
<text x="284.06" y="796.30" font-size="9" text-anchor="middle" font-weight="normal" fill="#222" stroke="#222" stroke-width="0.06" >2</text>
<text x="306.60" y="796.30" font-size="9" text-anchor="middle" font-weight="normal" fill="#222" stroke="#222" stroke-width="0.06" >2</text>
<rect x="150.80" y="802.70" width="34.5" height="8" fill="#9c1636"/>
<text x="168.05" y="809.10" font-size="7" text-anchor="middle" font-weight="normal" fill="#fff" stroke="#fff" stroke-width="0" >&#8805; median</text>
<text x="193.90" y="809.80" font-size="9" text-anchor="middle" font-weight="normal" fill="#222" stroke="#222" stroke-width="0.06" >30</text>
<text x="216.44" y="809.80" font-size="9" text-anchor="middle" font-weight="normal" fill="#222" stroke="#222" stroke-width="0.06" >23</text>
<text x="238.98" y="809.80" font-size="9" text-anchor="middle" font-weight="normal" fill="#222" stroke="#222" stroke-width="0.06" >18</text>
<text x="261.52" y="809.80" font-size="9" text-anchor="middle" font-weight="normal" fill="#222" stroke="#222" stroke-width="0.06" >15</text>
<text x="284.06" y="809.80" font-size="9" text-anchor="middle" font-weight="normal" fill="#222" stroke="#222" stroke-width="0.06" >11</text>
<text x="306.60" y="809.80" font-size="9" text-anchor="middle" font-weight="normal" fill="#222" stroke="#222" stroke-width="0.06" >10</text>
<path d="M379.20,632.70 L380.99,632.70 L380.99,637.10 L382.36,637.10 L382.36,642.43 L384.40,642.43 L384.40,650.52 L387.77,650.52 L387.77,653.18 L388.89,653.18 L388.89,661.37 L390.47,661.37 L390.47,668.03 L395.88,668.03 L395.88,674.68 L401.23,674.68 L401.23,680.01 L403.94,680.01 L403.94,685.44 L410.67,685.44 L410.67,691.48 L414.70,691.48 L414.70,696.19 L506.70,696.19" fill="none" stroke="#1f3157" stroke-width="1.75" stroke-linejoin="miter"/>
<line x1="427.65" y1="694.59" x2="427.65" y2="697.79" stroke="#1f3157" stroke-width="1.0"/>
<line x1="440.40" y1="694.59" x2="440.40" y2="697.79" stroke="#1f3157" stroke-width="1.0"/>
<line x1="450.60" y1="694.59" x2="450.60" y2="697.79" stroke="#1f3157" stroke-width="1.0"/>
<line x1="458.25" y1="694.59" x2="458.25" y2="697.79" stroke="#1f3157" stroke-width="1.0"/>
<line x1="463.35" y1="694.59" x2="463.35" y2="697.79" stroke="#1f3157" stroke-width="1.0"/>
<line x1="468.45" y1="694.59" x2="468.45" y2="697.79" stroke="#1f3157" stroke-width="1.0"/>
<line x1="506.70" y1="694.59" x2="506.70" y2="697.79" stroke="#1f3157" stroke-width="1.0"/>
<path d="M379.20,632.70 L382.26,632.70 L382.26,637.10 L383.74,637.10 L383.74,638.43 L388.48,638.43 L388.48,646.52 L394.50,646.52 L394.50,649.90 L399.91,649.90 L399.91,656.97 L415.36,656.97 L415.36,660.25 L430.20,660.25 L430.20,664.03 L440.91,664.03 L440.91,668.34 L506.70,668.34" fill="none" stroke="#7e1132" stroke-width="1.75" stroke-linejoin="miter"/>
<line x1="420.00" y1="658.65" x2="420.00" y2="661.85" stroke="#7e1132" stroke-width="1.0"/>
<line x1="427.65" y1="658.65" x2="427.65" y2="661.85" stroke="#7e1132" stroke-width="1.0"/>
<line x1="432.75" y1="662.43" x2="432.75" y2="665.63" stroke="#7e1132" stroke-width="1.0"/>
<line x1="445.50" y1="666.74" x2="445.50" y2="669.94" stroke="#7e1132" stroke-width="1.0"/>
<line x1="455.70" y1="666.74" x2="455.70" y2="669.94" stroke="#7e1132" stroke-width="1.0"/>
<line x1="460.80" y1="666.74" x2="460.80" y2="669.94" stroke="#7e1132" stroke-width="1.0"/>
<line x1="471.00" y1="666.74" x2="471.00" y2="669.94" stroke="#7e1132" stroke-width="1.0"/>
<line x1="506.70" y1="666.74" x2="506.70" y2="669.94" stroke="#7e1132" stroke-width="1.0"/>
<rect x="379.2" y="629" width="127.5" height="110.0" fill="none" stroke="#161010" stroke-width="1.5"/>
<line x1="375.70" y1="735.10" x2="379.20" y2="735.10" stroke="#161010" stroke-width="1.2"/>
<text x="372.20" y="738.55" font-size="9.6" text-anchor="end" font-weight="normal" fill="#222" stroke="#222" stroke-width="0.06" >0.0</text>
<line x1="375.70" y1="714.62" x2="379.20" y2="714.62" stroke="#161010" stroke-width="1.2"/>
<text x="372.20" y="718.07" font-size="9.6" text-anchor="end" font-weight="normal" fill="#222" stroke="#222" stroke-width="0.06" >0.2</text>
<line x1="375.70" y1="694.14" x2="379.20" y2="694.14" stroke="#161010" stroke-width="1.2"/>
<text x="372.20" y="697.59" font-size="9.6" text-anchor="end" font-weight="normal" fill="#222" stroke="#222" stroke-width="0.06" >0.4</text>
<line x1="375.70" y1="673.66" x2="379.20" y2="673.66" stroke="#161010" stroke-width="1.2"/>
<text x="372.20" y="677.11" font-size="9.6" text-anchor="end" font-weight="normal" fill="#222" stroke="#222" stroke-width="0.06" >0.6</text>
<line x1="375.70" y1="653.18" x2="379.20" y2="653.18" stroke="#161010" stroke-width="1.2"/>
<text x="372.20" y="656.63" font-size="9.6" text-anchor="end" font-weight="normal" fill="#222" stroke="#222" stroke-width="0.06" >0.8</text>
<line x1="375.70" y1="632.70" x2="379.20" y2="632.70" stroke="#161010" stroke-width="1.2"/>
<text x="372.20" y="636.15" font-size="9.6" text-anchor="end" font-weight="normal" fill="#222" stroke="#222" stroke-width="0.06" >1.0</text>
<line x1="379.20" y1="739.00" x2="379.20" y2="742.50" stroke="#161010" stroke-width="1.2"/>
<text x="379.20" y="754.30" font-size="9.6" text-anchor="middle" font-weight="normal" fill="#222" stroke="#222" stroke-width="0.06" >0</text>
<line x1="404.70" y1="739.00" x2="404.70" y2="742.50" stroke="#161010" stroke-width="1.2"/>
<text x="404.70" y="754.30" font-size="9.6" text-anchor="middle" font-weight="normal" fill="#222" stroke="#222" stroke-width="0.06" >5</text>
<line x1="430.20" y1="739.00" x2="430.20" y2="742.50" stroke="#161010" stroke-width="1.2"/>
<text x="430.20" y="754.30" font-size="9.6" text-anchor="middle" font-weight="normal" fill="#222" stroke="#222" stroke-width="0.06" >10</text>
<line x1="455.70" y1="739.00" x2="455.70" y2="742.50" stroke="#161010" stroke-width="1.2"/>
<text x="455.70" y="754.30" font-size="9.6" text-anchor="middle" font-weight="normal" fill="#222" stroke="#222" stroke-width="0.06" >15</text>
<line x1="481.20" y1="739.00" x2="481.20" y2="742.50" stroke="#161010" stroke-width="1.2"/>
<text x="481.20" y="754.30" font-size="9.6" text-anchor="middle" font-weight="normal" fill="#222" stroke="#222" stroke-width="0.06" >20</text>
<line x1="506.70" y1="739.00" x2="506.70" y2="742.50" stroke="#161010" stroke-width="1.2"/>
<text x="506.70" y="754.30" font-size="9.6" text-anchor="middle" font-weight="normal" fill="#222" stroke="#222" stroke-width="0.06" >25</text>
<text x="442.95" y="769.60" font-size="10" text-anchor="middle" font-weight="normal" fill="#222" stroke="#222" stroke-width="0.06" >Time from HSCT (months)</text>
<text x="0" y="0" font-size="10" text-anchor="middle" fill="#222" stroke="#222" stroke-width="0.06" transform="translate(348.80,684.00) rotate(-90)" dy="3.6">Probability of PFS</text>
<text x="503.70" y="641.10" font-size="8.7" text-anchor="end" font-weight="normal" fill="#222" stroke="#222" stroke-width="0.06" >p=0.02</text>
<text x="375.00" y="783.60" font-size="8.9" text-anchor="start" font-weight="normal" fill="#222" stroke="#222" stroke-width="0.06" >Number at risk</text>
<rect x="336.30" y="789.20" width="34.5" height="8" fill="#2a4474"/>
<text x="353.55" y="795.60" font-size="7" text-anchor="middle" font-weight="normal" fill="#fff" stroke="#fff" stroke-width="0" >&lt; median</text>
<text x="379.20" y="796.30" font-size="9" text-anchor="middle" font-weight="normal" fill="#222" stroke="#222" stroke-width="0.06" >29</text>
<text x="404.70" y="796.30" font-size="9" text-anchor="middle" font-weight="normal" fill="#222" stroke="#222" stroke-width="0.06" >14</text>
<text x="430.20" y="796.30" font-size="9" text-anchor="middle" font-weight="normal" fill="#222" stroke="#222" stroke-width="0.06" >9</text>
<text x="455.70" y="796.30" font-size="9" text-anchor="middle" font-weight="normal" fill="#222" stroke="#222" stroke-width="0.06" >5</text>
<text x="481.20" y="796.30" font-size="9" text-anchor="middle" font-weight="normal" fill="#222" stroke="#222" stroke-width="0.06" >2</text>
<text x="506.70" y="796.30" font-size="9" text-anchor="middle" font-weight="normal" fill="#222" stroke="#222" stroke-width="0.06" >2</text>
<rect x="336.30" y="802.70" width="34.5" height="8" fill="#9c1636"/>
<text x="353.55" y="809.10" font-size="7" text-anchor="middle" font-weight="normal" fill="#fff" stroke="#fff" stroke-width="0" >&#8805; median</text>
<text x="379.20" y="809.80" font-size="9" text-anchor="middle" font-weight="normal" fill="#222" stroke="#222" stroke-width="0.06" >30</text>
<text x="404.70" y="809.80" font-size="9" text-anchor="middle" font-weight="normal" fill="#222" stroke="#222" stroke-width="0.06" >23</text>
<text x="430.20" y="809.80" font-size="9" text-anchor="middle" font-weight="normal" fill="#222" stroke="#222" stroke-width="0.06" >18</text>
<text x="455.70" y="809.80" font-size="9" text-anchor="middle" font-weight="normal" fill="#222" stroke="#222" stroke-width="0.06" >15</text>
<text x="481.20" y="809.80" font-size="9" text-anchor="middle" font-weight="normal" fill="#222" stroke="#222" stroke-width="0.06" >11</text>
<text x="506.70" y="809.80" font-size="9" text-anchor="middle" font-weight="normal" fill="#222" stroke="#222" stroke-width="0.06" >10</text>
<rect x="0.85" y="0.85" width="518.3" height="819.3" fill="none" stroke="#000" stroke-width="1.7"/>
</svg></body></html>
